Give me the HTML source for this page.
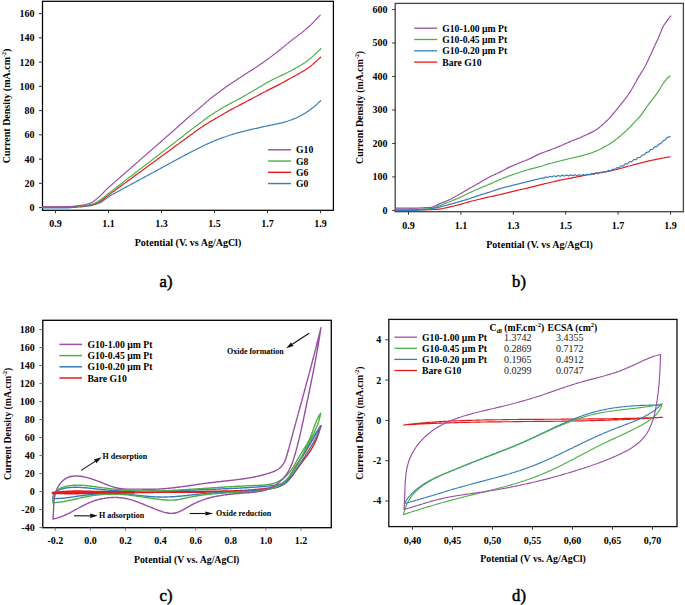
<!DOCTYPE html>
<html><head><meta charset="utf-8"><style>
html,body{margin:0;padding:0;background:#fff;}
svg{display:block;font-family:"Liberation Serif",serif;}
</style></head><body>
<svg width="685" height="605" viewBox="0 0 685 605">
<rect width="685" height="605" fill="#fff"/>
<rect x="42.50" y="1.30" width="290.90" height="209.00" fill="none" stroke="#000" stroke-width="1.25"/>
<line x1="38.90" y1="207.60" x2="42.50" y2="207.60" stroke="#333" stroke-width="1"/>
<text x="34.40" y="211.00" font-size="10.00" text-anchor="end" font-weight="bold" fill="#000" >0</text>
<line x1="38.90" y1="183.35" x2="42.50" y2="183.35" stroke="#333" stroke-width="1"/>
<text x="34.40" y="186.75" font-size="10.00" text-anchor="end" font-weight="bold" fill="#000" >20</text>
<line x1="38.90" y1="159.10" x2="42.50" y2="159.10" stroke="#333" stroke-width="1"/>
<text x="34.40" y="162.50" font-size="10.00" text-anchor="end" font-weight="bold" fill="#000" >40</text>
<line x1="38.90" y1="134.85" x2="42.50" y2="134.85" stroke="#333" stroke-width="1"/>
<text x="34.40" y="138.25" font-size="10.00" text-anchor="end" font-weight="bold" fill="#000" >60</text>
<line x1="38.90" y1="110.60" x2="42.50" y2="110.60" stroke="#333" stroke-width="1"/>
<text x="34.40" y="114.00" font-size="10.00" text-anchor="end" font-weight="bold" fill="#000" >80</text>
<line x1="38.90" y1="86.35" x2="42.50" y2="86.35" stroke="#333" stroke-width="1"/>
<text x="34.40" y="89.75" font-size="10.00" text-anchor="end" font-weight="bold" fill="#000" >100</text>
<line x1="38.90" y1="62.10" x2="42.50" y2="62.10" stroke="#333" stroke-width="1"/>
<text x="34.40" y="65.50" font-size="10.00" text-anchor="end" font-weight="bold" fill="#000" >120</text>
<line x1="38.90" y1="37.85" x2="42.50" y2="37.85" stroke="#333" stroke-width="1"/>
<text x="34.40" y="41.25" font-size="10.00" text-anchor="end" font-weight="bold" fill="#000" >140</text>
<line x1="38.90" y1="13.60" x2="42.50" y2="13.60" stroke="#333" stroke-width="1"/>
<text x="34.40" y="17.00" font-size="10.00" text-anchor="end" font-weight="bold" fill="#000" >160</text>
<line x1="55.50" y1="210.20" x2="55.50" y2="213.20" stroke="#333" stroke-width="1"/>
<text x="55.50" y="227.20" font-size="10.00" text-anchor="middle" font-weight="bold" fill="#000" >0.9</text>
<line x1="108.50" y1="210.20" x2="108.50" y2="213.20" stroke="#333" stroke-width="1"/>
<text x="108.50" y="227.20" font-size="10.00" text-anchor="middle" font-weight="bold" fill="#000" >1.1</text>
<line x1="161.50" y1="210.20" x2="161.50" y2="213.20" stroke="#333" stroke-width="1"/>
<text x="161.50" y="227.20" font-size="10.00" text-anchor="middle" font-weight="bold" fill="#000" >1.3</text>
<line x1="214.50" y1="210.20" x2="214.50" y2="213.20" stroke="#333" stroke-width="1"/>
<text x="214.50" y="227.20" font-size="10.00" text-anchor="middle" font-weight="bold" fill="#000" >1.5</text>
<line x1="267.50" y1="210.20" x2="267.50" y2="213.20" stroke="#333" stroke-width="1"/>
<text x="267.50" y="227.20" font-size="10.00" text-anchor="middle" font-weight="bold" fill="#000" >1.7</text>
<line x1="320.50" y1="210.20" x2="320.50" y2="213.20" stroke="#333" stroke-width="1"/>
<text x="320.50" y="227.20" font-size="10.00" text-anchor="middle" font-weight="bold" fill="#000" >1.9</text>
<text transform="translate(10.00,105.90) rotate(-90)" x="0" y="0" font-size="10.00" text-anchor="middle" font-weight="bold">Current Density (mA.cm<tspan font-size="6.00" dy="-4">-2</tspan><tspan dy="4">)</tspan></text>
<text x="188.00" y="246.20" font-size="10.00" text-anchor="middle" font-weight="bold" fill="#000" >Potential (V. vs Ag/AgCl)</text>
<text x="166.00" y="287.20" font-size="16.60" text-anchor="middle" font-weight="normal" fill="#000" stroke="#000" stroke-width="0.5">a)</text>
<path d="M42.5,208.0 L43.5,208.0 L44.5,208.0 L45.5,208.0 L46.5,208.0 L47.5,208.0 L48.5,208.0 L49.5,207.9 L50.5,207.9 L51.5,207.9 L52.5,207.9 L53.5,207.9 L54.5,207.9 L55.5,207.9 L56.5,207.9 L57.5,207.9 L58.5,207.9 L59.5,207.9 L60.5,207.9 L61.5,207.9 L62.5,207.9 L63.5,207.8 L64.5,207.8 L65.5,207.8 L66.5,207.8 L67.5,207.8 L68.5,207.8 L69.5,207.7 L70.5,207.7 L71.5,207.6 L72.5,207.5 L73.5,207.4 L74.5,207.4 L75.5,207.3 L76.5,207.2 L77.5,207.1 L78.5,207.0 L79.5,206.9 L80.5,206.8 L81.5,206.8 L82.5,206.7 L83.5,206.6 L84.5,206.5 L85.5,206.4 L86.5,206.2 L87.5,206.1 L88.5,205.9 L89.5,205.8 L90.5,205.6 L91.5,205.4 L92.5,205.2 L93.5,204.9 L94.5,204.7 L95.5,204.4 L96.5,204.0 L97.5,203.7 L98.5,203.3 L99.5,202.9 L100.5,202.4 L101.5,201.9 L102.5,201.2 L103.5,200.6 L104.5,199.8 L105.5,199.1 L106.5,198.4 L107.5,197.6 L108.5,196.9 L109.5,196.3 L110.5,195.6 L111.5,195.0 L112.5,194.5 L113.5,193.9 L114.5,193.4 L115.5,192.8 L116.5,192.3 L117.5,191.7 L118.5,191.2 L119.5,190.7 L120.5,190.1 L121.5,189.6 L122.5,189.0 L123.5,188.5 L124.5,187.9 L125.5,187.4 L126.5,186.9 L127.5,186.3 L128.5,185.8 L129.5,185.2 L130.5,184.7 L131.5,184.1 L132.5,183.6 L133.5,183.1 L134.5,182.5 L135.5,182.0 L136.5,181.4 L137.5,180.9 L138.5,180.4 L139.5,179.8 L140.5,179.3 L141.5,178.7 L142.5,178.2 L143.5,177.6 L144.5,177.1 L145.5,176.6 L146.5,176.0 L147.5,175.5 L148.5,174.9 L149.5,174.4 L150.5,173.8 L151.5,173.3 L152.5,172.8 L153.5,172.2 L154.5,171.7 L155.5,171.1 L156.5,170.6 L157.5,170.1 L158.5,169.5 L159.5,169.0 L160.5,168.4 L161.5,167.9 L162.5,167.3 L163.5,166.8 L164.5,166.3 L165.5,165.7 L166.5,165.2 L167.5,164.6 L168.5,164.1 L169.5,163.5 L170.5,163.0 L171.5,162.5 L172.5,161.9 L173.5,161.4 L174.5,160.8 L175.5,160.3 L176.5,159.7 L177.5,159.2 L178.5,158.7 L179.5,158.1 L180.5,157.6 L181.5,157.0 L182.5,156.5 L183.5,156.0 L184.5,155.4 L185.5,154.9 L186.5,154.4 L187.5,153.8 L188.5,153.3 L189.5,152.8 L190.5,152.2 L191.5,151.7 L192.5,151.2 L193.5,150.7 L194.5,150.2 L195.5,149.7 L196.5,149.2 L197.5,148.7 L198.5,148.2 L199.5,147.7 L200.5,147.2 L201.5,146.7 L202.5,146.2 L203.5,145.8 L204.5,145.3 L205.5,144.8 L206.5,144.3 L207.5,143.9 L208.5,143.4 L209.5,143.0 L210.5,142.5 L211.5,142.1 L212.5,141.7 L213.5,141.3 L214.5,140.8 L215.5,140.4 L216.5,140.0 L217.5,139.6 L218.5,139.2 L219.5,138.9 L220.5,138.5 L221.5,138.1 L222.5,137.7 L223.5,137.4 L224.5,137.0 L225.5,136.7 L226.5,136.3 L227.5,136.0 L228.5,135.7 L229.5,135.3 L230.5,135.0 L231.5,134.7 L232.5,134.4 L233.5,134.1 L234.5,133.8 L235.5,133.5 L236.5,133.2 L237.5,132.9 L238.5,132.6 L239.5,132.4 L240.5,132.1 L241.5,131.8 L242.5,131.6 L243.5,131.3 L244.5,131.1 L245.5,130.8 L246.5,130.6 L247.5,130.3 L248.5,130.1 L249.5,129.8 L250.5,129.6 L251.5,129.4 L252.5,129.2 L253.5,129.0 L254.5,128.7 L255.5,128.5 L256.5,128.3 L257.5,128.1 L258.5,127.9 L259.5,127.6 L260.5,127.4 L261.5,127.2 L262.5,126.9 L263.5,126.7 L264.5,126.5 L265.5,126.3 L266.5,126.0 L267.5,125.8 L268.5,125.6 L269.5,125.4 L270.5,125.2 L271.5,125.0 L272.5,124.8 L273.5,124.6 L274.5,124.4 L275.5,124.2 L276.5,124.0 L277.5,123.8 L278.5,123.6 L279.5,123.4 L280.5,123.2 L281.5,122.9 L282.5,122.7 L283.5,122.4 L284.5,122.1 L285.5,121.8 L286.5,121.5 L287.5,121.2 L288.5,120.8 L289.5,120.5 L290.5,120.1 L291.5,119.8 L292.5,119.4 L293.5,119.0 L294.5,118.6 L295.5,118.2 L296.5,117.7 L297.5,117.3 L298.5,116.8 L299.5,116.3 L300.5,115.8 L301.5,115.3 L302.5,114.7 L303.5,114.1 L304.5,113.5 L305.5,112.9 L306.5,112.3 L307.5,111.6 L308.5,110.9 L309.5,110.2 L310.5,109.4 L311.5,108.7 L312.5,108.0 L313.5,107.2 L314.5,106.4 L315.5,105.5 L316.5,104.6 L317.5,103.7 L318.5,102.7 L319.5,101.8 L320.5,101.1 L320.6,100.6" fill="none" stroke="#377eb8" stroke-width="1.20" stroke-linejoin="round" stroke-linecap="round" />
<path d="M42.5,207.1 L43.5,207.1 L44.5,207.1 L45.5,207.1 L46.5,207.1 L47.5,207.1 L48.5,207.1 L49.5,207.1 L50.5,207.1 L51.5,207.1 L52.5,207.1 L53.5,207.1 L54.5,207.1 L55.5,207.1 L56.5,207.2 L57.5,207.2 L58.5,207.2 L59.5,207.2 L60.5,207.2 L61.5,207.2 L62.5,207.2 L63.5,207.2 L64.5,207.2 L65.5,207.2 L66.5,207.2 L67.5,207.2 L68.5,207.2 L69.5,207.1 L70.5,207.1 L71.5,207.0 L72.5,206.9 L73.5,206.8 L74.5,206.8 L75.5,206.7 L76.5,206.6 L77.5,206.5 L78.5,206.4 L79.5,206.3 L80.5,206.3 L81.5,206.2 L82.5,206.2 L83.5,206.1 L84.5,206.0 L85.5,205.9 L86.5,205.7 L87.5,205.6 L88.5,205.4 L89.5,205.3 L90.5,205.1 L91.5,204.8 L92.5,204.6 L93.5,204.3 L94.5,204.0 L95.5,203.7 L96.5,203.2 L97.5,202.8 L98.5,202.2 L99.5,201.7 L100.5,201.1 L101.5,200.4 L102.5,199.7 L103.5,199.0 L104.5,198.2 L105.5,197.4 L106.5,196.7 L107.5,195.9 L108.5,195.1 L109.5,194.4 L110.5,193.6 L111.5,192.9 L112.5,192.1 L113.5,191.4 L114.5,190.7 L115.5,189.9 L116.5,189.2 L117.5,188.5 L118.5,187.7 L119.5,187.0 L120.5,186.3 L121.5,185.6 L122.5,184.8 L123.5,184.1 L124.5,183.4 L125.5,182.6 L126.5,181.9 L127.5,181.2 L128.5,180.4 L129.5,179.7 L130.5,179.0 L131.5,178.2 L132.5,177.5 L133.5,176.8 L134.5,176.0 L135.5,175.3 L136.5,174.6 L137.5,173.9 L138.5,173.1 L139.5,172.4 L140.5,171.7 L141.5,170.9 L142.5,170.2 L143.5,169.5 L144.5,168.7 L145.5,168.0 L146.5,167.3 L147.5,166.5 L148.5,165.8 L149.5,165.1 L150.5,164.3 L151.5,163.6 L152.5,162.9 L153.5,162.2 L154.5,161.4 L155.5,160.7 L156.5,160.0 L157.5,159.2 L158.5,158.5 L159.5,157.8 L160.5,157.0 L161.5,156.3 L162.5,155.6 L163.5,154.8 L164.5,154.1 L165.5,153.4 L166.5,152.6 L167.5,151.9 L168.5,151.2 L169.5,150.5 L170.5,149.7 L171.5,149.0 L172.5,148.3 L173.5,147.5 L174.5,146.8 L175.5,146.1 L176.5,145.3 L177.5,144.6 L178.5,143.9 L179.5,143.1 L180.5,142.4 L181.5,141.7 L182.5,141.0 L183.5,140.2 L184.5,139.5 L185.5,138.8 L186.5,138.0 L187.5,137.3 L188.5,136.6 L189.5,135.8 L190.5,135.1 L191.5,134.4 L192.5,133.7 L193.5,132.9 L194.5,132.2 L195.5,131.5 L196.5,130.8 L197.5,130.0 L198.5,129.3 L199.5,128.6 L200.5,127.9 L201.5,127.3 L202.5,126.6 L203.5,125.9 L204.5,125.3 L205.5,124.6 L206.5,124.0 L207.5,123.4 L208.5,122.7 L209.5,122.1 L210.5,121.5 L211.5,120.9 L212.5,120.4 L213.5,119.8 L214.5,119.2 L215.5,118.6 L216.5,118.0 L217.5,117.4 L218.5,116.8 L219.5,116.2 L220.5,115.7 L221.5,115.1 L222.5,114.5 L223.5,113.9 L224.5,113.3 L225.5,112.8 L226.5,112.2 L227.5,111.6 L228.5,111.1 L229.5,110.5 L230.5,109.9 L231.5,109.4 L232.5,108.9 L233.5,108.3 L234.5,107.8 L235.5,107.3 L236.5,106.7 L237.5,106.2 L238.5,105.7 L239.5,105.1 L240.5,104.6 L241.5,104.1 L242.5,103.6 L243.5,103.1 L244.5,102.5 L245.5,102.0 L246.5,101.5 L247.5,101.0 L248.5,100.4 L249.5,99.9 L250.5,99.4 L251.5,98.9 L252.5,98.3 L253.5,97.8 L254.5,97.3 L255.5,96.7 L256.5,96.2 L257.5,95.7 L258.5,95.2 L259.5,94.6 L260.5,94.1 L261.5,93.6 L262.5,93.0 L263.5,92.5 L264.5,92.0 L265.5,91.5 L266.5,90.9 L267.5,90.4 L268.5,89.9 L269.5,89.4 L270.5,88.9 L271.5,88.4 L272.5,87.9 L273.5,87.4 L274.5,86.9 L275.5,86.4 L276.5,85.9 L277.5,85.4 L278.5,84.9 L279.5,84.4 L280.5,83.8 L281.5,83.3 L282.5,82.7 L283.5,82.2 L284.5,81.6 L285.5,81.1 L286.5,80.5 L287.5,79.9 L288.5,79.4 L289.5,78.8 L290.5,78.3 L291.5,77.7 L292.5,77.2 L293.5,76.6 L294.5,76.1 L295.5,75.5 L296.5,75.0 L297.5,74.4 L298.5,73.9 L299.5,73.3 L300.5,72.8 L301.5,72.2 L302.5,71.6 L303.5,71.0 L304.5,70.4 L305.5,69.8 L306.5,69.1 L307.5,68.4 L308.5,67.7 L309.5,66.9 L310.5,66.2 L311.5,65.4 L312.5,64.6 L313.5,63.7 L314.5,62.8 L315.5,61.9 L316.5,61.0 L317.5,60.1 L318.5,59.1 L319.5,58.3 L320.5,57.6 L320.6,57.1" fill="none" stroke="#e41a1c" stroke-width="1.20" stroke-linejoin="round" stroke-linecap="round" />
<path d="M42.5,207.0 L43.5,207.0 L44.5,207.0 L45.5,207.0 L46.5,207.0 L47.5,207.0 L48.5,207.0 L49.5,207.0 L50.5,207.0 L51.5,207.0 L52.5,207.0 L53.5,207.0 L54.5,207.0 L55.5,207.0 L56.5,207.0 L57.5,207.0 L58.5,207.0 L59.5,207.0 L60.5,207.0 L61.5,207.0 L62.5,207.0 L63.5,207.0 L64.5,207.0 L65.5,207.0 L66.5,207.0 L67.5,207.0 L68.5,207.0 L69.5,206.9 L70.5,206.9 L71.5,206.8 L72.5,206.7 L73.5,206.6 L74.5,206.6 L75.5,206.5 L76.5,206.4 L77.5,206.3 L78.5,206.2 L79.5,206.1 L80.5,206.0 L81.5,206.0 L82.5,205.9 L83.5,205.8 L84.5,205.6 L85.5,205.5 L86.5,205.3 L87.5,205.2 L88.5,205.0 L89.5,204.8 L90.5,204.5 L91.5,204.2 L92.5,204.0 L93.5,203.6 L94.5,203.3 L95.5,202.8 L96.5,202.3 L97.5,201.8 L98.5,201.1 L99.5,200.5 L100.5,199.8 L101.5,199.1 L102.5,198.3 L103.5,197.6 L104.5,196.8 L105.5,196.0 L106.5,195.1 L107.5,194.3 L108.5,193.5 L109.5,192.7 L110.5,191.9 L111.5,191.1 L112.5,190.4 L113.5,189.6 L114.5,188.8 L115.5,188.1 L116.5,187.3 L117.5,186.5 L118.5,185.8 L119.5,185.0 L120.5,184.2 L121.5,183.4 L122.5,182.7 L123.5,181.9 L124.5,181.1 L125.5,180.4 L126.5,179.6 L127.5,178.8 L128.5,178.1 L129.5,177.3 L130.5,176.5 L131.5,175.8 L132.5,175.0 L133.5,174.2 L134.5,173.5 L135.5,172.7 L136.5,171.9 L137.5,171.1 L138.5,170.4 L139.5,169.6 L140.5,168.8 L141.5,168.1 L142.5,167.3 L143.5,166.5 L144.5,165.8 L145.5,165.0 L146.5,164.2 L147.5,163.5 L148.5,162.7 L149.5,161.9 L150.5,161.2 L151.5,160.4 L152.5,159.6 L153.5,158.8 L154.5,158.1 L155.5,157.3 L156.5,156.5 L157.5,155.8 L158.5,155.0 L159.5,154.2 L160.5,153.5 L161.5,152.7 L162.5,151.9 L163.5,151.2 L164.5,150.4 L165.5,149.6 L166.5,148.8 L167.5,148.1 L168.5,147.3 L169.5,146.5 L170.5,145.8 L171.5,145.0 L172.5,144.2 L173.5,143.5 L174.5,142.7 L175.5,141.9 L176.5,141.1 L177.5,140.4 L178.5,139.6 L179.5,138.8 L180.5,138.0 L181.5,137.3 L182.5,136.5 L183.5,135.7 L184.5,134.9 L185.5,134.1 L186.5,133.3 L187.5,132.5 L188.5,131.7 L189.5,130.9 L190.5,130.2 L191.5,129.4 L192.5,128.6 L193.5,127.9 L194.5,127.1 L195.5,126.4 L196.5,125.7 L197.5,124.9 L198.5,124.2 L199.5,123.4 L200.5,122.7 L201.5,122.0 L202.5,121.2 L203.5,120.5 L204.5,119.7 L205.5,119.0 L206.5,118.3 L207.5,117.5 L208.5,116.8 L209.5,116.1 L210.5,115.4 L211.5,114.7 L212.5,114.1 L213.5,113.4 L214.5,112.8 L215.5,112.1 L216.5,111.5 L217.5,110.9 L218.5,110.3 L219.5,109.7 L220.5,109.1 L221.5,108.5 L222.5,107.9 L223.5,107.3 L224.5,106.8 L225.5,106.2 L226.5,105.6 L227.5,105.1 L228.5,104.5 L229.5,104.0 L230.5,103.4 L231.5,102.9 L232.5,102.3 L233.5,101.8 L234.5,101.3 L235.5,100.7 L236.5,100.2 L237.5,99.7 L238.5,99.1 L239.5,98.6 L240.5,98.1 L241.5,97.5 L242.5,97.0 L243.5,96.4 L244.5,95.9 L245.5,95.3 L246.5,94.7 L247.5,94.2 L248.5,93.6 L249.5,93.0 L250.5,92.4 L251.5,91.8 L252.5,91.3 L253.5,90.7 L254.5,90.1 L255.5,89.5 L256.5,88.9 L257.5,88.3 L258.5,87.7 L259.5,87.1 L260.5,86.5 L261.5,85.9 L262.5,85.3 L263.5,84.7 L264.5,84.1 L265.5,83.6 L266.5,83.0 L267.5,82.4 L268.5,81.9 L269.5,81.3 L270.5,80.8 L271.5,80.3 L272.5,79.8 L273.5,79.3 L274.5,78.8 L275.5,78.3 L276.5,77.8 L277.5,77.3 L278.5,76.8 L279.5,76.4 L280.5,75.9 L281.5,75.4 L282.5,74.9 L283.5,74.5 L284.5,74.0 L285.5,73.5 L286.5,73.0 L287.5,72.5 L288.5,72.0 L289.5,71.5 L290.5,71.0 L291.5,70.5 L292.5,70.0 L293.5,69.4 L294.5,68.9 L295.5,68.3 L296.5,67.8 L297.5,67.2 L298.5,66.6 L299.5,66.0 L300.5,65.4 L301.5,64.8 L302.5,64.2 L303.5,63.5 L304.5,62.9 L305.5,62.2 L306.5,61.4 L307.5,60.7 L308.5,59.9 L309.5,59.1 L310.5,58.3 L311.5,57.4 L312.5,56.6 L313.5,55.7 L314.5,54.7 L315.5,53.8 L316.5,52.8 L317.5,51.8 L318.5,50.9 L319.5,50.0 L320.5,49.2 L320.6,48.7" fill="none" stroke="#4daf4a" stroke-width="1.20" stroke-linejoin="round" stroke-linecap="round" />
<path d="M42.5,206.8 L43.5,206.8 L44.5,206.8 L45.5,206.8 L46.5,206.8 L47.5,206.8 L48.5,206.8 L49.5,206.8 L50.5,206.8 L51.5,206.8 L52.5,206.8 L53.5,206.8 L54.5,206.8 L55.5,206.8 L56.5,206.8 L57.5,206.8 L58.5,206.8 L59.5,206.8 L60.5,206.8 L61.5,206.8 L62.5,206.8 L63.5,206.8 L64.5,206.8 L65.5,206.7 L66.5,206.7 L67.5,206.7 L68.5,206.7 L69.5,206.6 L70.5,206.6 L71.5,206.5 L72.5,206.4 L73.5,206.3 L74.5,206.1 L75.5,206.0 L76.5,205.9 L77.5,205.8 L78.5,205.7 L79.5,205.5 L80.5,205.4 L81.5,205.3 L82.5,205.2 L83.5,205.0 L84.5,204.8 L85.5,204.6 L86.5,204.3 L87.5,204.0 L88.5,203.7 L89.5,203.4 L90.5,203.0 L91.5,202.5 L92.5,202.0 L93.5,201.4 L94.5,200.7 L95.5,199.9 L96.5,199.1 L97.5,198.3 L98.5,197.4 L99.5,196.5 L100.5,195.6 L101.5,194.6 L102.5,193.6 L103.5,192.5 L104.5,191.4 L105.5,190.4 L106.5,189.4 L107.5,188.4 L108.5,187.5 L109.5,186.6 L110.5,185.8 L111.5,184.9 L112.5,184.0 L113.5,183.1 L114.5,182.3 L115.5,181.4 L116.5,180.5 L117.5,179.6 L118.5,178.8 L119.5,177.9 L120.5,177.0 L121.5,176.1 L122.5,175.3 L123.5,174.4 L124.5,173.5 L125.5,172.6 L126.5,171.8 L127.5,170.9 L128.5,170.0 L129.5,169.1 L130.5,168.3 L131.5,167.4 L132.5,166.5 L133.5,165.6 L134.5,164.8 L135.5,163.9 L136.5,163.0 L137.5,162.1 L138.5,161.3 L139.5,160.4 L140.5,159.5 L141.5,158.6 L142.5,157.8 L143.5,156.9 L144.5,156.0 L145.5,155.1 L146.5,154.3 L147.5,153.4 L148.5,152.5 L149.5,151.6 L150.5,150.8 L151.5,149.9 L152.5,149.0 L153.5,148.1 L154.5,147.3 L155.5,146.4 L156.5,145.5 L157.5,144.6 L158.5,143.8 L159.5,142.9 L160.5,142.0 L161.5,141.1 L162.5,140.3 L163.5,139.4 L164.5,138.5 L165.5,137.6 L166.5,136.8 L167.5,135.9 L168.5,135.0 L169.5,134.2 L170.5,133.3 L171.5,132.4 L172.5,131.5 L173.5,130.7 L174.5,129.8 L175.5,128.9 L176.5,128.0 L177.5,127.1 L178.5,126.2 L179.5,125.3 L180.5,124.4 L181.5,123.5 L182.5,122.6 L183.5,121.7 L184.5,120.8 L185.5,119.9 L186.5,119.0 L187.5,118.1 L188.5,117.2 L189.5,116.4 L190.5,115.5 L191.5,114.7 L192.5,113.9 L193.5,113.0 L194.5,112.2 L195.5,111.4 L196.5,110.6 L197.5,109.7 L198.5,108.9 L199.5,108.0 L200.5,107.2 L201.5,106.3 L202.5,105.4 L203.5,104.6 L204.5,103.7 L205.5,102.8 L206.5,101.9 L207.5,101.1 L208.5,100.2 L209.5,99.4 L210.5,98.6 L211.5,97.8 L212.5,97.0 L213.5,96.2 L214.5,95.5 L215.5,94.7 L216.5,93.9 L217.5,93.2 L218.5,92.4 L219.5,91.7 L220.5,91.0 L221.5,90.2 L222.5,89.5 L223.5,88.8 L224.5,88.1 L225.5,87.3 L226.5,86.6 L227.5,85.9 L228.5,85.2 L229.5,84.5 L230.5,83.9 L231.5,83.2 L232.5,82.5 L233.5,81.9 L234.5,81.2 L235.5,80.6 L236.5,79.9 L237.5,79.3 L238.5,78.6 L239.5,78.0 L240.5,77.3 L241.5,76.7 L242.5,76.0 L243.5,75.4 L244.5,74.7 L245.5,74.1 L246.5,73.4 L247.5,72.8 L248.5,72.1 L249.5,71.5 L250.5,70.8 L251.5,70.2 L252.5,69.5 L253.5,68.9 L254.5,68.3 L255.5,67.6 L256.5,67.0 L257.5,66.3 L258.5,65.7 L259.5,65.0 L260.5,64.3 L261.5,63.6 L262.5,62.9 L263.5,62.2 L264.5,61.5 L265.5,60.8 L266.5,60.1 L267.5,59.3 L268.5,58.6 L269.5,57.9 L270.5,57.1 L271.5,56.4 L272.5,55.6 L273.5,54.9 L274.5,54.1 L275.5,53.4 L276.5,52.6 L277.5,51.8 L278.5,51.0 L279.5,50.2 L280.5,49.4 L281.5,48.6 L282.5,47.7 L283.5,46.9 L284.5,46.1 L285.5,45.2 L286.5,44.4 L287.5,43.6 L288.5,42.7 L289.5,41.9 L290.5,41.2 L291.5,40.4 L292.5,39.6 L293.5,38.9 L294.5,38.1 L295.5,37.4 L296.5,36.6 L297.5,35.9 L298.5,35.1 L299.5,34.4 L300.5,33.6 L301.5,32.9 L302.5,32.1 L303.5,31.3 L304.5,30.4 L305.5,29.6 L306.5,28.7 L307.5,27.8 L308.5,26.9 L309.5,26.0 L310.5,25.1 L311.5,24.1 L312.5,23.2 L313.5,22.2 L314.5,21.2 L315.5,20.1 L316.5,19.0 L317.5,17.9 L318.5,16.8 L319.5,15.9 L320.2,15.1" fill="none" stroke="#984ea3" stroke-width="1.20" stroke-linejoin="round" stroke-linecap="round" />
<line x1="268" y1="149.80" x2="291" y2="149.80" stroke="#984ea3" stroke-width="1.4"/>
<text x="296.00" y="153.30" font-size="9.70" text-anchor="start" font-weight="bold" fill="#000" >G10</text>
<line x1="268" y1="161.05" x2="291" y2="161.05" stroke="#4daf4a" stroke-width="1.4"/>
<text x="296.00" y="164.55" font-size="9.70" text-anchor="start" font-weight="bold" fill="#000" >G8</text>
<line x1="268" y1="172.30" x2="291" y2="172.30" stroke="#e41a1c" stroke-width="1.4"/>
<text x="296.00" y="175.80" font-size="9.70" text-anchor="start" font-weight="bold" fill="#000" >G6</text>
<line x1="268" y1="183.55" x2="291" y2="183.55" stroke="#377eb8" stroke-width="1.4"/>
<text x="296.00" y="187.05" font-size="9.70" text-anchor="start" font-weight="bold" fill="#000" >G0</text>
<rect x="395.20" y="3.40" width="288.20" height="208.30" fill="none" stroke="#444" stroke-width="1.30"/>
<line x1="392.20" y1="210.40" x2="395.20" y2="210.40" stroke="#333" stroke-width="1"/>
<text x="387.60" y="213.80" font-size="10.00" text-anchor="end" font-weight="bold" fill="#000" >0</text>
<line x1="392.20" y1="176.93" x2="395.20" y2="176.93" stroke="#333" stroke-width="1"/>
<text x="387.60" y="180.33" font-size="10.00" text-anchor="end" font-weight="bold" fill="#000" >100</text>
<line x1="392.20" y1="143.46" x2="395.20" y2="143.46" stroke="#333" stroke-width="1"/>
<text x="387.60" y="146.86" font-size="10.00" text-anchor="end" font-weight="bold" fill="#000" >200</text>
<line x1="392.20" y1="109.99" x2="395.20" y2="109.99" stroke="#333" stroke-width="1"/>
<text x="387.60" y="113.39" font-size="10.00" text-anchor="end" font-weight="bold" fill="#000" >300</text>
<line x1="392.20" y1="76.52" x2="395.20" y2="76.52" stroke="#333" stroke-width="1"/>
<text x="387.60" y="79.92" font-size="10.00" text-anchor="end" font-weight="bold" fill="#000" >400</text>
<line x1="392.20" y1="43.05" x2="395.20" y2="43.05" stroke="#333" stroke-width="1"/>
<text x="387.60" y="46.45" font-size="10.00" text-anchor="end" font-weight="bold" fill="#000" >500</text>
<line x1="392.20" y1="9.58" x2="395.20" y2="9.58" stroke="#333" stroke-width="1"/>
<text x="387.60" y="12.98" font-size="10.00" text-anchor="end" font-weight="bold" fill="#000" >600</text>
<line x1="408.50" y1="211.70" x2="408.50" y2="214.70" stroke="#333" stroke-width="1"/>
<text x="408.50" y="229.00" font-size="10.00" text-anchor="middle" font-weight="bold" fill="#000" >0.9</text>
<line x1="460.90" y1="211.70" x2="460.90" y2="214.70" stroke="#333" stroke-width="1"/>
<text x="460.90" y="229.00" font-size="10.00" text-anchor="middle" font-weight="bold" fill="#000" >1.1</text>
<line x1="513.30" y1="211.70" x2="513.30" y2="214.70" stroke="#333" stroke-width="1"/>
<text x="513.30" y="229.00" font-size="10.00" text-anchor="middle" font-weight="bold" fill="#000" >1.3</text>
<line x1="565.70" y1="211.70" x2="565.70" y2="214.70" stroke="#333" stroke-width="1"/>
<text x="565.70" y="229.00" font-size="10.00" text-anchor="middle" font-weight="bold" fill="#000" >1.5</text>
<line x1="618.10" y1="211.70" x2="618.10" y2="214.70" stroke="#333" stroke-width="1"/>
<text x="618.10" y="229.00" font-size="10.00" text-anchor="middle" font-weight="bold" fill="#000" >1.7</text>
<line x1="670.50" y1="211.70" x2="670.50" y2="214.70" stroke="#333" stroke-width="1"/>
<text x="670.50" y="229.00" font-size="10.00" text-anchor="middle" font-weight="bold" fill="#000" >1.9</text>
<text transform="translate(362.60,107.40) rotate(-90)" x="0" y="0" font-size="9.88" text-anchor="middle" font-weight="bold">Current Density (mA.cm<tspan font-size="5.93" dy="-4">-2</tspan><tspan dy="4">)</tspan></text>
<text x="539.50" y="248.00" font-size="10.00" text-anchor="middle" font-weight="bold" fill="#000" >Potential (V. vs Ag/AgCl)</text>
<text x="519.00" y="287.20" font-size="16.60" text-anchor="middle" font-weight="normal" fill="#000" stroke="#000" stroke-width="0.5">b)</text>
<path d="M396.0,209.8 L397.0,209.8 L398.0,209.8 L399.0,209.8 L400.0,209.8 L401.0,209.8 L402.0,209.8 L403.0,209.8 L404.0,209.8 L405.0,209.8 L406.0,209.8 L407.0,209.8 L408.0,209.8 L409.0,209.8 L410.0,209.8 L411.0,209.7 L412.0,209.7 L413.0,209.7 L414.0,209.7 L415.0,209.7 L416.0,209.7 L417.0,209.7 L418.0,209.7 L419.0,209.7 L420.0,209.7 L421.0,209.7 L422.0,209.7 L423.0,209.7 L424.0,209.7 L425.0,209.7 L426.0,209.7 L427.0,209.7 L428.0,209.6 L429.0,209.6 L430.0,209.6 L431.0,209.6 L432.0,209.6 L433.0,209.5 L434.0,209.5 L435.0,209.5 L436.0,209.4 L437.0,209.3 L438.0,209.2 L439.0,209.1 L440.0,209.0 L441.0,208.8 L442.0,208.7 L443.0,208.5 L444.0,208.2 L445.0,208.0 L446.0,207.8 L447.0,207.6 L448.0,207.4 L449.0,207.2 L450.0,206.9 L451.0,206.7 L452.0,206.5 L453.0,206.2 L454.0,206.0 L455.0,205.7 L456.0,205.5 L457.0,205.2 L458.0,204.9 L459.0,204.7 L460.0,204.4 L461.0,204.1 L462.0,203.9 L463.0,203.6 L464.0,203.3 L465.0,203.0 L466.0,202.7 L467.0,202.4 L468.0,202.1 L469.0,201.8 L470.0,201.6 L471.0,201.3 L472.0,201.0 L473.0,200.8 L474.0,200.5 L475.0,200.3 L476.0,200.0 L477.0,199.8 L478.0,199.5 L479.0,199.3 L480.0,199.0 L481.0,198.8 L482.0,198.6 L483.0,198.3 L484.0,198.1 L485.0,197.9 L486.0,197.6 L487.0,197.4 L488.0,197.2 L489.0,197.0 L490.0,196.7 L491.0,196.5 L492.0,196.3 L493.0,196.1 L494.0,195.9 L495.0,195.7 L496.0,195.4 L497.0,195.2 L498.0,195.0 L499.0,194.8 L500.0,194.6 L501.0,194.3 L502.0,194.1 L503.0,193.9 L504.0,193.6 L505.0,193.4 L506.0,193.1 L507.0,192.9 L508.0,192.6 L509.0,192.4 L510.0,192.2 L511.0,191.9 L512.0,191.7 L513.0,191.4 L514.0,191.2 L515.0,190.9 L516.0,190.7 L517.0,190.4 L518.0,190.2 L519.0,190.0 L520.0,189.7 L521.0,189.5 L522.0,189.3 L523.0,189.0 L524.0,188.8 L525.0,188.6 L526.0,188.3 L527.0,188.1 L528.0,187.9 L529.0,187.6 L530.0,187.4 L531.0,187.2 L532.0,186.9 L533.0,186.7 L534.0,186.4 L535.0,186.2 L536.0,185.9 L537.0,185.7 L538.0,185.4 L539.0,185.2 L540.0,184.9 L541.0,184.7 L542.0,184.4 L543.0,184.2 L544.0,183.9 L545.0,183.7 L546.0,183.5 L547.0,183.2 L548.0,183.0 L549.0,182.7 L550.0,182.5 L551.0,182.3 L552.0,182.0 L553.0,181.8 L554.0,181.6 L555.0,181.3 L556.0,181.1 L557.0,180.9 L558.0,180.6 L559.0,180.4 L560.0,180.2 L561.0,180.0 L562.0,179.8 L563.0,179.6 L564.0,179.4 L565.0,179.2 L566.0,179.0 L567.0,178.8 L568.0,178.6 L569.0,178.4 L570.0,178.3 L571.0,178.1 L572.0,177.9 L573.0,177.7 L574.0,177.5 L575.0,177.3 L576.0,177.1 L577.0,176.9 L578.0,176.7 L579.0,176.5 L580.0,176.3 L581.0,176.1 L582.0,175.9 L583.0,175.7 L584.0,175.5 L585.0,175.2 L586.0,175.0 L587.0,174.8 L588.0,174.7 L589.0,174.5 L590.0,174.3 L591.0,174.1 L592.0,173.9 L593.0,173.7 L594.0,173.6 L595.0,173.4 L596.0,173.2 L597.0,173.0 L598.0,172.9 L599.0,172.7 L600.0,172.5 L601.0,172.4 L602.0,172.2 L603.0,172.1 L604.0,171.9 L605.0,171.8 L606.0,171.6 L607.0,171.5 L608.0,171.3 L609.0,171.1 L610.0,170.9 L611.0,170.7 L612.0,170.5 L613.0,170.3 L614.0,170.0 L615.0,169.8 L616.0,169.5 L617.0,169.3 L618.0,169.1 L619.0,168.8 L620.0,168.5 L621.0,168.3 L622.0,168.0 L623.0,167.7 L624.0,167.4 L625.0,167.2 L626.0,166.9 L627.0,166.6 L628.0,166.3 L629.0,166.0 L630.0,165.8 L631.0,165.5 L632.0,165.2 L633.0,164.9 L634.0,164.7 L635.0,164.4 L636.0,164.1 L637.0,163.9 L638.0,163.6 L639.0,163.3 L640.0,163.1 L641.0,162.8 L642.0,162.6 L643.0,162.3 L644.0,162.1 L645.0,161.8 L646.0,161.6 L647.0,161.4 L648.0,161.1 L649.0,160.9 L650.0,160.7 L651.0,160.5 L652.0,160.2 L653.0,160.0 L654.0,159.8 L655.0,159.6 L656.0,159.4 L657.0,159.2 L658.0,159.0 L659.0,158.8 L660.0,158.6 L661.0,158.4 L662.0,158.2 L663.0,158.0 L664.0,157.9 L665.0,157.7 L666.0,157.5 L667.0,157.3 L668.0,157.1 L669.0,157.0 L670.0,156.9" fill="none" stroke="#e41a1c" stroke-width="1.20" stroke-linejoin="round" stroke-linecap="round" />
<path d="M396.0,209.3 L397.0,209.3 L398.0,209.3 L399.0,209.3 L400.0,209.3 L401.0,209.3 L402.0,209.3 L403.0,209.3 L404.0,209.3 L405.0,209.3 L406.0,209.3 L407.0,209.3 L408.0,209.3 L409.0,209.2 L410.0,209.2 L411.0,209.2 L412.0,209.2 L413.0,209.2 L414.0,209.2 L415.0,209.2 L416.0,209.2 L417.0,209.2 L418.0,209.2 L419.0,209.2 L420.0,209.2 L421.0,209.1 L422.0,209.1 L423.0,209.0 L424.0,209.0 L425.0,208.9 L426.0,208.8 L427.0,208.8 L428.0,208.7 L429.0,208.6 L430.0,208.5 L431.0,208.3 L432.0,208.1 L433.0,207.8 L434.0,207.5 L435.0,207.2 L436.0,206.9 L437.0,206.6 L438.0,206.2 L439.0,205.8 L440.0,205.5 L441.0,205.1 L442.0,204.7 L443.0,204.3 L444.0,203.9 L445.0,203.5 L446.0,203.1 L447.0,202.7 L448.0,202.3 L449.0,202.0 L450.0,201.6 L451.0,201.2 L452.0,200.8 L453.0,200.3 L454.0,199.9 L455.0,199.5 L456.0,199.1 L457.0,198.7 L458.0,198.3 L459.0,197.9 L460.0,197.4 L461.0,197.0 L462.0,196.5 L463.0,196.0 L464.0,195.5 L465.0,195.0 L466.0,194.5 L467.0,194.0 L468.0,193.5 L469.0,193.0 L470.0,192.5 L471.0,192.1 L472.0,191.6 L473.0,191.2 L474.0,190.7 L475.0,190.3 L476.0,189.8 L477.0,189.4 L478.0,189.0 L479.0,188.5 L480.0,188.1 L481.0,187.7 L482.0,187.3 L483.0,186.9 L484.0,186.5 L485.0,186.1 L486.0,185.7 L487.0,185.2 L488.0,184.8 L489.0,184.4 L490.0,184.0 L491.0,183.6 L492.0,183.1 L493.0,182.7 L494.0,182.2 L495.0,181.8 L496.0,181.3 L497.0,180.9 L498.0,180.5 L499.0,180.0 L500.0,179.6 L501.0,179.2 L502.0,178.8 L503.0,178.3 L504.0,177.9 L505.0,177.5 L506.0,177.1 L507.0,176.7 L508.0,176.3 L509.0,175.9 L510.0,175.6 L511.0,175.2 L512.0,174.9 L513.0,174.5 L514.0,174.2 L515.0,173.8 L516.0,173.5 L517.0,173.2 L518.0,172.8 L519.0,172.5 L520.0,172.2 L521.0,171.8 L522.0,171.5 L523.0,171.2 L524.0,170.9 L525.0,170.6 L526.0,170.3 L527.0,170.0 L528.0,169.7 L529.0,169.4 L530.0,169.2 L531.0,168.9 L532.0,168.6 L533.0,168.4 L534.0,168.1 L535.0,167.9 L536.0,167.6 L537.0,167.4 L538.0,167.1 L539.0,166.8 L540.0,166.5 L541.0,166.3 L542.0,166.0 L543.0,165.7 L544.0,165.3 L545.0,165.0 L546.0,164.7 L547.0,164.4 L548.0,164.1 L549.0,163.8 L550.0,163.5 L551.0,163.3 L552.0,163.0 L553.0,162.7 L554.0,162.5 L555.0,162.2 L556.0,162.0 L557.0,161.7 L558.0,161.5 L559.0,161.2 L560.0,161.0 L561.0,160.7 L562.0,160.5 L563.0,160.2 L564.0,160.0 L565.0,159.7 L566.0,159.5 L567.0,159.2 L568.0,159.0 L569.0,158.7 L570.0,158.5 L571.0,158.2 L572.0,158.0 L573.0,157.8 L574.0,157.5 L575.0,157.3 L576.0,157.1 L577.0,156.8 L578.0,156.6 L579.0,156.4 L580.0,156.1 L581.0,155.9 L582.0,155.6 L583.0,155.3 L584.0,155.1 L585.0,154.8 L586.0,154.5 L587.0,154.2 L588.0,153.9 L589.0,153.7 L590.0,153.3 L591.0,153.0 L592.0,152.6 L593.0,152.3 L594.0,151.9 L595.0,151.5 L596.0,151.1 L597.0,150.7 L598.0,150.3 L599.0,149.8 L600.0,149.3 L601.0,148.8 L602.0,148.2 L603.0,147.6 L604.0,147.1 L605.0,146.5 L606.0,146.0 L607.0,145.5 L608.0,145.0 L609.0,144.4 L610.0,143.8 L611.0,143.1 L612.0,142.4 L613.0,141.7 L614.0,140.9 L615.0,140.2 L616.0,139.4 L617.0,138.6 L618.0,137.8 L619.0,137.0 L620.0,136.2 L621.0,135.4 L622.0,134.5 L623.0,133.6 L624.0,132.7 L625.0,131.8 L626.0,130.9 L627.0,129.9 L628.0,129.0 L629.0,128.1 L630.0,127.1 L631.0,126.0 L632.0,125.0 L633.0,123.9 L634.0,122.8 L635.0,121.7 L636.0,120.6 L637.0,119.6 L638.0,118.6 L639.0,117.5 L640.0,116.4 L641.0,115.1 L642.0,113.7 L643.0,112.3 L644.0,110.9 L645.0,109.4 L646.0,108.0 L647.0,106.5 L648.0,105.1 L649.0,103.7 L650.0,102.4 L651.0,101.1 L652.0,99.8 L653.0,98.6 L654.0,97.3 L655.0,96.1 L656.0,94.7 L657.0,93.3 L658.0,91.9 L659.0,90.4 L660.0,88.7 L661.0,87.0 L662.0,85.3 L663.0,83.7 L664.0,82.3 L665.0,81.0 L666.0,79.8 L667.0,78.7 L668.0,77.7 L669.0,76.8 L670.0,76.2" fill="none" stroke="#4daf4a" stroke-width="1.20" stroke-linejoin="round" stroke-linecap="round" />
<path d="M396.0,208.2 L397.0,208.2 L398.0,208.2 L399.0,208.2 L400.0,208.2 L401.0,208.2 L402.0,208.2 L403.0,208.2 L404.0,208.2 L405.0,208.2 L406.0,208.2 L407.0,208.2 L408.0,208.2 L409.0,208.2 L410.0,208.2 L411.0,208.2 L412.0,208.2 L413.0,208.1 L414.0,208.1 L415.0,208.1 L416.0,208.1 L417.0,208.1 L418.0,208.0 L419.0,208.0 L420.0,208.0 L421.0,207.9 L422.0,207.9 L423.0,207.8 L424.0,207.8 L425.0,207.7 L426.0,207.7 L427.0,207.6 L428.0,207.6 L429.0,207.5 L430.0,207.4 L431.0,207.3 L432.0,207.1 L433.0,206.8 L434.0,206.4 L435.0,206.0 L436.0,205.6 L437.0,205.1 L438.0,204.6 L439.0,204.1 L440.0,203.6 L441.0,203.2 L442.0,202.8 L443.0,202.4 L444.0,202.0 L445.0,201.6 L446.0,201.2 L447.0,200.8 L448.0,200.4 L449.0,199.9 L450.0,199.5 L451.0,199.0 L452.0,198.4 L453.0,197.9 L454.0,197.3 L455.0,196.8 L456.0,196.2 L457.0,195.7 L458.0,195.1 L459.0,194.5 L460.0,194.0 L461.0,193.4 L462.0,192.8 L463.0,192.2 L464.0,191.6 L465.0,191.0 L466.0,190.4 L467.0,189.9 L468.0,189.3 L469.0,188.7 L470.0,188.1 L471.0,187.5 L472.0,187.0 L473.0,186.4 L474.0,185.9 L475.0,185.3 L476.0,184.8 L477.0,184.2 L478.0,183.6 L479.0,183.1 L480.0,182.5 L481.0,181.9 L482.0,181.3 L483.0,180.7 L484.0,180.1 L485.0,179.5 L486.0,178.9 L487.0,178.4 L488.0,177.8 L489.0,177.2 L490.0,176.7 L491.0,176.2 L492.0,175.7 L493.0,175.3 L494.0,174.8 L495.0,174.4 L496.0,173.9 L497.0,173.5 L498.0,173.0 L499.0,172.6 L500.0,172.1 L501.0,171.6 L502.0,171.1 L503.0,170.5 L504.0,170.0 L505.0,169.5 L506.0,168.9 L507.0,168.4 L508.0,167.9 L509.0,167.4 L510.0,166.9 L511.0,166.4 L512.0,166.0 L513.0,165.6 L514.0,165.1 L515.0,164.7 L516.0,164.3 L517.0,163.9 L518.0,163.5 L519.0,163.0 L520.0,162.6 L521.0,162.2 L522.0,161.8 L523.0,161.4 L524.0,161.0 L525.0,160.7 L526.0,160.3 L527.0,159.9 L528.0,159.5 L529.0,159.0 L530.0,158.6 L531.0,158.1 L532.0,157.6 L533.0,157.1 L534.0,156.6 L535.0,156.1 L536.0,155.6 L537.0,155.1 L538.0,154.6 L539.0,154.1 L540.0,153.7 L541.0,153.3 L542.0,152.9 L543.0,152.6 L544.0,152.2 L545.0,151.8 L546.0,151.5 L547.0,151.1 L548.0,150.7 L549.0,150.4 L550.0,150.0 L551.0,149.6 L552.0,149.2 L553.0,148.8 L554.0,148.5 L555.0,148.1 L556.0,147.7 L557.0,147.3 L558.0,146.9 L559.0,146.5 L560.0,146.1 L561.0,145.7 L562.0,145.2 L563.0,144.8 L564.0,144.3 L565.0,143.9 L566.0,143.4 L567.0,143.0 L568.0,142.5 L569.0,142.1 L570.0,141.6 L571.0,141.2 L572.0,140.8 L573.0,140.5 L574.0,140.1 L575.0,139.7 L576.0,139.3 L577.0,138.9 L578.0,138.5 L579.0,138.1 L580.0,137.7 L581.0,137.2 L582.0,136.8 L583.0,136.3 L584.0,135.9 L585.0,135.4 L586.0,135.0 L587.0,134.5 L588.0,134.1 L589.0,133.6 L590.0,133.1 L591.0,132.6 L592.0,132.1 L593.0,131.6 L594.0,131.1 L595.0,130.5 L596.0,129.8 L597.0,129.2 L598.0,128.5 L599.0,127.7 L600.0,126.9 L601.0,126.1 L602.0,125.2 L603.0,124.3 L604.0,123.4 L605.0,122.4 L606.0,121.5 L607.0,120.5 L608.0,119.6 L609.0,118.6 L610.0,117.6 L611.0,116.4 L612.0,115.2 L613.0,114.0 L614.0,112.8 L615.0,111.6 L616.0,110.4 L617.0,109.1 L618.0,107.9 L619.0,106.7 L620.0,105.4 L621.0,104.2 L622.0,102.9 L623.0,101.6 L624.0,100.3 L625.0,99.0 L626.0,97.7 L627.0,96.3 L628.0,95.0 L629.0,93.6 L630.0,92.1 L631.0,90.5 L632.0,88.8 L633.0,87.0 L634.0,85.2 L635.0,83.4 L636.0,81.7 L637.0,79.9 L638.0,78.1 L639.0,76.4 L640.0,74.7 L641.0,73.1 L642.0,71.5 L643.0,70.0 L644.0,68.3 L645.0,66.5 L646.0,64.6 L647.0,62.5 L648.0,60.4 L649.0,58.3 L650.0,56.1 L651.0,54.0 L652.0,51.8 L653.0,49.6 L654.0,47.4 L655.0,45.3 L656.0,43.1 L657.0,40.9 L658.0,38.7 L659.0,36.4 L660.0,34.1 L661.0,31.5 L662.0,28.9 L663.0,26.7 L664.0,25.0 L665.0,23.7 L666.0,22.3 L667.0,20.9 L668.0,19.5 L669.0,18.1 L670.0,16.9 L670.8,16.0" fill="none" stroke="#984ea3" stroke-width="1.20" stroke-linejoin="round" stroke-linecap="round" />
<path d="M396.0,210.4 L396.5,210.4 L397.0,210.4 L397.5,210.4 L398.0,210.4 L398.5,210.4 L399.0,210.4 L399.5,210.4 L400.0,210.4 L400.5,210.4 L401.0,210.4 L401.5,210.4 L402.0,210.4 L402.5,210.4 L403.0,210.4 L403.5,210.4 L404.0,210.4 L404.5,210.4 L405.0,210.4 L405.5,210.4 L406.0,210.4 L406.5,210.4 L407.0,210.4 L407.5,210.4 L408.0,210.3 L408.5,210.3 L409.0,210.3 L409.5,210.3 L410.0,210.3 L410.5,210.3 L411.0,210.3 L411.5,210.3 L412.0,210.3 L412.5,210.3 L413.0,210.3 L413.5,210.3 L414.0,210.3 L414.5,210.3 L415.0,210.3 L415.5,210.3 L416.0,210.3 L416.5,210.3 L417.0,210.3 L417.5,210.3 L418.0,210.3 L418.5,210.2 L419.0,210.2 L419.5,210.2 L420.0,210.2 L420.5,210.1 L421.0,210.1 L421.5,210.1 L422.0,210.0 L422.5,210.0 L423.0,209.9 L423.5,209.9 L424.0,209.8 L424.5,209.8 L425.0,209.8 L425.5,209.7 L426.0,209.7 L426.5,209.6 L427.0,209.6 L427.5,209.5 L428.0,209.4 L428.5,209.4 L429.0,209.3 L429.5,209.2 L430.0,209.2 L430.5,209.1 L431.0,209.0 L431.5,208.9 L432.0,208.8 L432.5,208.7 L433.0,208.6 L433.5,208.5 L434.0,208.3 L434.5,208.2 L435.0,208.1 L435.5,208.0 L436.0,207.9 L436.5,207.8 L437.0,207.7 L437.5,207.5 L438.0,207.4 L438.5,207.3 L439.0,207.2 L439.5,207.1 L440.0,206.9 L440.5,206.8 L441.0,206.7 L441.5,206.6 L442.0,206.4 L442.5,206.3 L443.0,206.2 L443.5,206.0 L444.0,205.9 L444.5,205.8 L445.0,205.6 L445.5,205.5 L446.0,205.4 L446.5,205.2 L447.0,205.1 L447.5,205.0 L448.0,204.8 L448.5,204.7 L449.0,204.5 L449.5,204.4 L450.0,204.3 L450.5,204.1 L451.0,204.0 L451.5,203.9 L452.0,203.7 L452.5,203.6 L453.0,203.5 L453.5,203.3 L454.0,203.2 L454.5,203.0 L455.0,202.9 L455.5,202.8 L456.0,202.6 L456.5,202.5 L457.0,202.4 L457.5,202.2 L458.0,202.1 L458.5,201.9 L459.0,201.8 L459.5,201.7 L460.0,201.5 L460.5,201.4 L461.0,201.2 L461.5,201.1 L462.0,200.9 L462.5,200.8 L463.0,200.6 L463.5,200.5 L464.0,200.3 L464.5,200.2 L465.0,200.0 L465.5,199.9 L466.0,199.7 L466.5,199.6 L467.0,199.4 L467.5,199.3 L468.0,199.1 L468.5,199.0 L469.0,198.8 L469.5,198.6 L470.0,198.5 L470.5,198.3 L471.0,198.1 L471.5,198.0 L472.0,197.8 L472.5,197.6 L473.0,197.5 L473.5,197.3 L474.0,197.1 L474.5,196.9 L475.0,196.8 L475.5,196.6 L476.0,196.4 L476.5,196.2 L477.0,196.1 L477.5,195.9 L478.0,195.7 L478.5,195.6 L479.0,195.4 L479.5,195.2 L480.0,195.1 L480.5,194.9 L481.0,194.7 L481.5,194.6 L482.0,194.4 L482.5,194.3 L483.0,194.1 L483.5,194.0 L484.0,193.8 L484.5,193.7 L485.0,193.5 L485.5,193.4 L486.0,193.2 L486.5,193.1 L487.0,192.9 L487.5,192.8 L488.0,192.6 L488.5,192.5 L489.0,192.3 L489.5,192.2 L490.0,192.0 L490.5,191.8 L491.0,191.7 L491.5,191.5 L492.0,191.3 L492.5,191.1 L493.0,191.0 L493.5,190.8 L494.0,190.6 L494.5,190.4 L495.0,190.3 L495.5,190.1 L496.0,189.9 L496.5,189.7 L497.0,189.6 L497.5,189.4 L498.0,189.2 L498.5,189.1 L499.0,188.9 L499.5,188.7 L500.0,188.6 L500.5,188.4 L501.0,188.3 L501.5,188.1 L502.0,188.0 L502.5,187.9 L503.0,187.7 L503.5,187.6 L504.0,187.5 L504.5,187.3 L505.0,187.2 L505.5,187.1 L506.0,187.0 L506.5,186.8 L507.0,186.7 L507.5,186.6 L508.0,186.5 L508.5,186.3 L509.0,186.2 L509.5,186.1 L510.0,186.0 L510.5,185.8 L511.0,185.7 L511.5,185.6 L512.0,185.5 L512.5,185.4 L513.0,185.2 L513.5,185.1 L514.0,185.0 L514.5,184.9 L515.0,184.8 L515.5,184.6 L516.0,184.5 L516.5,184.4 L517.0,184.3 L517.5,184.1 L518.0,184.0 L518.5,183.9 L519.0,183.8 L519.5,183.7 L520.0,183.5 L520.5,183.4 L521.0,183.3 L521.5,183.2 L522.0,183.0 L522.5,182.9 L523.0,182.8 L523.5,182.7 L524.0,182.5 L524.5,182.4 L525.0,182.3 L525.5,182.2 L526.0,182.0 L526.5,181.9 L527.0,181.8 L527.5,181.7 L528.0,181.5 L528.5,181.4 L529.0,181.3 L529.5,181.2 L530.0,181.0 L530.5,180.9 L531.0,180.8 L531.5,180.6 L532.0,180.5 L532.5,180.4 L533.0,180.3 L533.5,180.1 L534.0,180.0 L534.5,179.9 L535.0,179.8 L535.5,179.6 L536.0,179.5 L536.5,179.4 L537.0,179.2 L537.5,179.1 L538.0,179.0 L538.5,179.0 L539.0,178.9 L539.5,178.8 L540.0,178.6 L540.5,178.4 L541.0,178.2 L541.5,178.1 L542.0,178.1 L542.5,178.1 L543.0,178.1 L543.5,178.1 L544.0,177.9 L544.5,177.6 L545.0,177.4 L545.5,177.1 L546.0,177.2 L546.5,177.3 L547.0,177.4 L547.5,177.5 L548.0,177.3 L548.5,177.0 L549.0,176.7 L549.5,176.4 L550.0,176.3 L550.5,176.5 L551.0,176.7 L551.5,176.9 L552.0,176.9 L552.5,176.6 L553.0,176.3 L553.5,176.0 L554.0,175.8 L554.5,176.0 L555.0,176.2 L555.5,176.4 L556.0,176.7 L556.5,176.4 L557.0,176.1 L557.5,175.8 L558.0,175.5 L558.5,175.6 L559.0,175.8 L559.5,176.0 L560.0,176.3 L560.5,176.2 L561.0,175.9 L561.5,175.6 L562.0,175.3 L562.5,175.2 L563.0,175.5 L563.5,175.7 L564.0,175.9 L564.5,176.1 L565.0,175.8 L565.5,175.5 L566.0,175.2 L566.5,174.9 L567.0,175.2 L567.5,175.4 L568.0,175.6 L568.5,175.9 L569.0,175.7 L569.5,175.4 L570.0,175.2 L570.5,174.9 L571.0,174.9 L571.5,175.2 L572.0,175.4 L572.5,175.7 L573.0,175.7 L573.5,175.4 L574.0,175.2 L574.5,174.9 L575.0,174.7 L575.5,175.0 L576.0,175.3 L576.5,175.5 L577.0,175.8 L577.5,175.5 L578.0,175.2 L578.5,175.0 L579.0,174.7 L579.5,174.8 L580.0,175.1 L580.5,175.3 L581.0,175.5 L581.5,175.5 L582.0,175.2 L582.5,174.9 L583.0,174.6 L583.5,174.5 L584.0,174.8 L584.5,175.0 L585.0,175.2 L585.5,175.3 L586.0,175.1 L586.5,174.8 L587.0,174.5 L587.5,174.2 L588.0,174.4 L588.5,174.6 L589.0,174.8 L589.5,175.0 L590.0,174.8 L590.5,174.5 L591.0,174.2 L591.5,173.8 L592.0,173.8 L592.5,174.0 L593.0,174.2 L593.5,174.4 L594.0,174.3 L594.5,174.0 L595.0,173.7 L595.5,173.3 L596.0,173.1 L596.5,173.3 L597.0,173.4 L597.5,173.6 L598.0,173.8 L598.5,173.4 L599.0,173.1 L599.5,172.7 L600.0,172.4 L600.5,172.4 L601.0,172.6 L601.5,172.7 L602.0,172.9 L602.5,172.7 L603.0,172.4 L603.5,172.0 L604.0,171.6 L604.5,171.5 L605.0,171.6 L605.5,171.8 L606.0,171.9 L606.5,172.0 L607.0,171.6 L607.5,171.2 L608.0,170.8 L608.5,170.4 L609.0,170.6 L609.5,170.7 L610.0,170.8 L610.5,170.9 L611.0,170.6 L611.5,170.2 L612.0,169.7 L612.5,169.3 L613.0,169.2 L613.5,169.3 L614.0,169.4 L614.5,169.4 L615.0,169.3 L615.5,168.9 L616.0,168.4 L616.5,168.0 L617.0,167.6 L617.5,167.7 L618.0,167.8 L618.5,167.8 L619.0,167.9 L619.5,167.4 L620.0,166.9 L620.5,166.5 L621.0,166.0 L621.5,165.9 L622.0,165.9 L622.5,165.9 L623.0,166.0 L623.5,165.7 L624.0,165.2 L624.5,164.6 L625.0,164.1 L625.5,163.8 L626.0,163.8 L626.5,163.8 L627.0,163.9 L627.5,163.8 L628.0,163.2 L628.5,162.7 L629.0,162.2 L629.5,161.7 L630.0,161.7 L630.5,161.7 L631.0,161.8 L631.5,161.8 L632.0,161.4 L632.5,160.9 L633.0,160.4 L633.5,159.8 L634.0,159.6 L634.5,159.7 L635.0,159.7 L635.5,159.7 L636.0,159.5 L636.5,159.0 L637.0,158.5 L637.5,157.9 L638.0,157.5 L638.5,157.5 L639.0,157.5 L639.5,157.5 L640.0,157.5 L640.5,156.9 L641.0,156.4 L641.5,155.8 L642.0,155.2 L642.5,155.1 L643.0,155.0 L643.5,154.9 L644.0,154.9 L644.5,154.5 L645.0,153.9 L645.5,153.3 L646.0,152.7 L646.5,152.4 L647.0,152.3 L647.5,152.2 L648.0,152.2 L648.5,152.0 L649.0,151.4 L649.5,150.8 L650.0,150.2 L650.5,149.6 L651.0,149.6 L651.5,149.5 L652.0,149.5 L652.5,149.4 L653.0,148.9 L653.5,148.3 L654.0,147.7 L654.5,147.1 L655.0,146.9 L655.5,146.8 L656.0,146.7 L656.5,146.7 L657.0,146.4 L657.5,145.8 L658.0,145.2 L658.5,144.6 L659.0,144.0 L659.5,143.9 L660.0,143.8 L660.5,143.7 L661.0,143.6 L661.5,142.9 L662.0,142.2 L662.5,141.6 L663.0,140.9 L663.5,140.6 L664.0,140.5 L664.5,140.3 L665.0,140.1 L665.5,139.7 L666.0,139.0 L666.5,138.3 L667.0,137.7 L667.5,137.3 L668.0,137.2 L668.5,137.1 L669.0,137.1 L669.5,137.0 L670.0,136.5" fill="none" stroke="#377eb8" stroke-width="1.20" stroke-linejoin="round" stroke-linecap="round" />
<line x1="414.2" y1="28.20" x2="437.2" y2="28.20" stroke="#984ea3" stroke-width="1.3"/>
<text x="442.20" y="31.70" font-size="9.70" text-anchor="start" font-weight="bold" fill="#000" >G10-1.00 µm Pt</text>
<line x1="414.2" y1="39.50" x2="437.2" y2="39.50" stroke="#4daf4a" stroke-width="1.3"/>
<text x="442.20" y="43.00" font-size="9.70" text-anchor="start" font-weight="bold" fill="#000" >G10-0.45 µm Pt</text>
<line x1="414.2" y1="50.80" x2="437.2" y2="50.80" stroke="#377eb8" stroke-width="1.3"/>
<text x="442.20" y="54.30" font-size="9.70" text-anchor="start" font-weight="bold" fill="#000" >G10-0.20 µm Pt</text>
<line x1="414.2" y1="62.10" x2="437.2" y2="62.10" stroke="#e41a1c" stroke-width="1.3"/>
<text x="442.20" y="65.60" font-size="9.70" text-anchor="start" font-weight="bold" fill="#000" >Bare G10</text>
<rect x="42.80" y="320.30" width="288.50" height="207.40" fill="none" stroke="#000" stroke-width="1.30"/>
<line x1="39.40" y1="527.60" x2="42.80" y2="527.60" stroke="#666" stroke-width="1"/>
<text x="34.70" y="531.00" font-size="10.00" text-anchor="end" font-weight="bold" fill="#000" >-40</text>
<line x1="39.40" y1="509.60" x2="42.80" y2="509.60" stroke="#666" stroke-width="1"/>
<text x="34.70" y="513.00" font-size="10.00" text-anchor="end" font-weight="bold" fill="#000" >-20</text>
<line x1="39.40" y1="491.60" x2="42.80" y2="491.60" stroke="#666" stroke-width="1"/>
<text x="34.70" y="495.00" font-size="10.00" text-anchor="end" font-weight="bold" fill="#000" >0</text>
<line x1="39.40" y1="473.60" x2="42.80" y2="473.60" stroke="#666" stroke-width="1"/>
<text x="34.70" y="477.00" font-size="10.00" text-anchor="end" font-weight="bold" fill="#000" >20</text>
<line x1="39.40" y1="455.60" x2="42.80" y2="455.60" stroke="#666" stroke-width="1"/>
<text x="34.70" y="459.00" font-size="10.00" text-anchor="end" font-weight="bold" fill="#000" >40</text>
<line x1="39.40" y1="437.60" x2="42.80" y2="437.60" stroke="#666" stroke-width="1"/>
<text x="34.70" y="441.00" font-size="10.00" text-anchor="end" font-weight="bold" fill="#000" >60</text>
<line x1="39.40" y1="419.60" x2="42.80" y2="419.60" stroke="#666" stroke-width="1"/>
<text x="34.70" y="423.00" font-size="10.00" text-anchor="end" font-weight="bold" fill="#000" >80</text>
<line x1="39.40" y1="401.60" x2="42.80" y2="401.60" stroke="#666" stroke-width="1"/>
<text x="34.70" y="405.00" font-size="10.00" text-anchor="end" font-weight="bold" fill="#000" >100</text>
<line x1="39.40" y1="383.60" x2="42.80" y2="383.60" stroke="#666" stroke-width="1"/>
<text x="34.70" y="387.00" font-size="10.00" text-anchor="end" font-weight="bold" fill="#000" >120</text>
<line x1="39.40" y1="365.60" x2="42.80" y2="365.60" stroke="#666" stroke-width="1"/>
<text x="34.70" y="369.00" font-size="10.00" text-anchor="end" font-weight="bold" fill="#000" >140</text>
<line x1="39.40" y1="347.60" x2="42.80" y2="347.60" stroke="#666" stroke-width="1"/>
<text x="34.70" y="351.00" font-size="10.00" text-anchor="end" font-weight="bold" fill="#000" >160</text>
<line x1="39.40" y1="329.60" x2="42.80" y2="329.60" stroke="#666" stroke-width="1"/>
<text x="34.70" y="333.00" font-size="10.00" text-anchor="end" font-weight="bold" fill="#000" >180</text>
<line x1="55.30" y1="527.60" x2="55.30" y2="530.60" stroke="#777" stroke-width="1"/>
<text x="55.30" y="544.40" font-size="10.00" text-anchor="middle" font-weight="bold" fill="#000" >-0.2</text>
<line x1="90.40" y1="527.60" x2="90.40" y2="530.60" stroke="#777" stroke-width="1"/>
<text x="90.40" y="544.40" font-size="10.00" text-anchor="middle" font-weight="bold" fill="#000" >0.0</text>
<line x1="125.50" y1="527.60" x2="125.50" y2="530.60" stroke="#777" stroke-width="1"/>
<text x="125.50" y="544.40" font-size="10.00" text-anchor="middle" font-weight="bold" fill="#000" >0.2</text>
<line x1="160.60" y1="527.60" x2="160.60" y2="530.60" stroke="#777" stroke-width="1"/>
<text x="160.60" y="544.40" font-size="10.00" text-anchor="middle" font-weight="bold" fill="#000" >0.4</text>
<line x1="195.70" y1="527.60" x2="195.70" y2="530.60" stroke="#777" stroke-width="1"/>
<text x="195.70" y="544.40" font-size="10.00" text-anchor="middle" font-weight="bold" fill="#000" >0.6</text>
<line x1="230.80" y1="527.60" x2="230.80" y2="530.60" stroke="#777" stroke-width="1"/>
<text x="230.80" y="544.40" font-size="10.00" text-anchor="middle" font-weight="bold" fill="#000" >0.8</text>
<line x1="265.90" y1="527.60" x2="265.90" y2="530.60" stroke="#777" stroke-width="1"/>
<text x="265.90" y="544.40" font-size="10.00" text-anchor="middle" font-weight="bold" fill="#000" >1.0</text>
<line x1="301.00" y1="527.60" x2="301.00" y2="530.60" stroke="#777" stroke-width="1"/>
<text x="301.00" y="544.40" font-size="10.00" text-anchor="middle" font-weight="bold" fill="#000" >1.2</text>
<text transform="translate(10.60,423.90) rotate(-90)" x="0" y="0" font-size="9.82" text-anchor="middle" font-weight="bold">Current Density (mA.cm<tspan font-size="5.89" dy="-4">-2</tspan><tspan dy="4">)</tspan></text>
<text x="186.70" y="562.80" font-size="9.80" text-anchor="middle" font-weight="bold" fill="#000" >Potential (V vs. Ag/AgCl)</text>
<text x="166.00" y="600.70" font-size="16.60" text-anchor="middle" font-weight="normal" fill="#000" stroke="#000" stroke-width="0.5">c)</text>
<path d="M52.4,492.8 L53.4,492.6 L54.4,492.5 L55.4,492.4 L56.4,492.2 L57.4,492.1 L58.4,492.0 L59.4,491.9 L60.4,491.8 L61.4,491.7 L62.4,491.6 L63.4,491.5 L64.4,491.5 L65.4,491.4 L66.4,491.4 L67.4,491.3 L68.4,491.3 L69.4,491.2 L70.4,491.2 L71.4,491.2 L72.4,491.1 L73.4,491.1 L74.4,491.1 L75.4,491.1 L76.4,491.1 L77.4,491.1 L78.4,491.1 L79.4,491.1 L80.4,491.1 L81.4,491.1 L82.4,491.1 L83.4,491.2 L84.4,491.2 L85.4,491.2 L86.4,491.2 L87.4,491.2 L88.5,491.3 L89.5,491.3 L90.5,491.3 L91.5,491.3 L92.5,491.4 L93.5,491.4 L94.5,491.4 L95.5,491.5 L96.5,491.5 L97.5,491.5 L98.5,491.5 L99.5,491.5 L100.5,491.6 L101.5,491.6 L102.5,491.6 L103.5,491.6 L104.5,491.6 L105.5,491.6 L106.5,491.7 L107.6,491.7 L108.6,491.7 L109.6,491.7 L110.6,491.7 L111.6,491.7 L112.6,491.7 L113.6,491.7 L114.6,491.7 L115.6,491.7 L116.6,491.7 L117.6,491.7 L118.6,491.7 L119.6,491.7 L120.6,491.7 L121.6,491.7 L122.6,491.7 L123.6,491.7 L124.6,491.7 L125.6,491.7 L126.6,491.6 L127.6,491.6 L128.6,491.6 L129.6,491.6 L130.6,491.6 L131.6,491.6 L132.6,491.6 L133.6,491.6 L134.7,491.6 L135.7,491.6 L136.7,491.6 L137.7,491.6 L138.7,491.6 L139.7,491.6 L140.7,491.6 L141.7,491.6 L142.7,491.6 L143.7,491.6 L144.7,491.6 L145.7,491.6 L146.7,491.5 L147.7,491.5 L148.7,491.5 L149.7,491.5 L150.7,491.5 L151.7,491.5 L152.7,491.5 L153.7,491.5 L154.7,491.5 L155.7,491.5 L156.7,491.5 L157.7,491.5 L158.7,491.5 L159.8,491.5 L160.8,491.5 L161.8,491.5 L162.8,491.5 L163.8,491.5 L164.8,491.5 L165.8,491.5 L166.8,491.5 L167.8,491.5 L168.8,491.5 L169.8,491.5 L170.8,491.5 L171.8,491.5 L172.8,491.5 L173.8,491.5 L174.8,491.5 L175.8,491.5 L176.8,491.5 L177.8,491.5 L178.8,491.5 L179.8,491.5 L180.8,491.5 L181.8,491.5 L182.9,491.5 L183.9,491.5 L184.9,491.5 L185.9,491.5 L186.9,491.5 L187.9,491.5 L188.9,491.5 L189.9,491.5 L190.9,491.5 L191.9,491.5 L192.9,491.4 L193.9,491.4 L194.9,491.4 L195.9,491.4 L196.9,491.4 L197.9,491.4 L198.9,491.4 L199.9,491.4 L200.9,491.4 L201.9,491.4 L202.9,491.4 L203.9,491.4 L204.9,491.4 L205.9,491.4 L206.9,491.3 L207.9,491.3 L208.9,491.3 L209.9,491.3 L210.9,491.3 L212.0,491.3 L213.0,491.3 L214.0,491.3 L215.0,491.2 L216.0,491.2 L217.0,491.2 L218.0,491.2 L219.0,491.2 L220.0,491.2 L221.0,491.2 L222.0,491.1 L223.0,491.1 L224.0,491.1 L225.0,491.1 L226.0,491.1 L227.0,491.0 L228.0,491.0 L229.0,491.0 L230.0,491.0 L231.0,490.9 L232.0,490.9 L233.0,490.9 L234.0,490.8 L235.0,490.8 L236.0,490.8 L237.0,490.7 L238.0,490.7 L239.0,490.7 L240.0,490.6 L241.0,490.6 L242.0,490.5 L243.0,490.5 L244.0,490.4 L245.0,490.4 L246.0,490.3 L247.0,490.2 L248.0,490.2 L249.0,490.1 L250.0,490.0 L251.0,489.9 L252.0,489.9 L253.0,489.8 L254.1,489.7 L255.1,489.6 L256.1,489.5 L257.1,489.4 L258.1,489.3 L259.1,489.2 L260.1,489.1 L261.1,489.0 L262.1,488.9 L263.1,488.8 L264.1,488.6 L265.1,488.5 L266.1,488.4 L267.2,488.2 L268.2,488.1 L269.2,487.9 L270.2,487.8 L271.2,487.6 L272.2,487.4 L273.2,487.2 L274.2,487.0 L275.2,486.8 L276.2,486.6 L277.1,486.3 L278.0,486.0 L279.0,485.7 L279.9,485.3 L280.7,484.9 L281.6,484.4 L282.4,484.0 L283.2,483.4 L284.0,482.9 L284.7,482.3 L285.4,481.6 L286.1,480.9 L286.7,480.2 L287.4,479.5 L288.0,478.7 L288.6,477.9 L289.2,477.1 L289.7,476.3 L290.3,475.4 L290.8,474.5 L291.4,473.7 L291.9,472.8 L292.4,471.9 L292.9,471.0 L293.4,470.1 L294.0,469.2 L294.5,468.3 L295.0,467.4 L295.5,466.5 L296.1,465.7 L296.6,464.8 L297.2,464.0 L297.7,463.1 L298.3,462.3 L298.9,461.4 L299.4,460.6 L300.0,459.8 L300.5,459.0 L301.1,458.1 L301.7,457.3 L302.2,456.5 L302.8,455.7 L303.3,454.8 L303.9,454.0 L304.4,453.2 L305.0,452.3 L305.5,451.5 L306.0,450.7 L306.5,449.8 L307.1,448.9 L307.6,448.1 L308.1,447.2 L308.6,446.4 L309.1,445.5 L309.6,444.6 L310.1,443.8 L310.6,442.9 L311.1,442.0 L311.6,441.1 L312.1,440.3 L312.6,439.4 L313.1,438.5 L313.6,437.7 L314.1,436.8 L314.6,435.9 L315.1,435.0 L315.6,434.2 L316.1,433.3 L316.6,432.5 L317.2,431.6 L317.7,430.7 L318.2,429.9 L318.7,429.0 L319.3,428.2 L319.8,427.4 L320.3,426.5 L320.9,425.7 L320.7,426.7 L320.4,427.6 L320.1,428.6 L319.8,429.6 L319.5,430.5 L319.2,431.5 L318.9,432.4 L318.6,433.4 L318.3,434.3 L317.9,435.3 L317.5,436.2 L317.2,437.2 L316.8,438.1 L316.4,439.1 L316.0,440.0 L315.6,440.9 L315.2,441.9 L314.7,442.8 L314.3,443.7 L313.8,444.6 L313.4,445.5 L312.9,446.4 L312.4,447.3 L311.9,448.1 L311.4,449.0 L310.9,449.9 L310.3,450.7 L309.8,451.5 L309.3,452.4 L308.7,453.2 L308.1,454.0 L307.6,454.8 L307.0,455.6 L306.4,456.4 L305.8,457.2 L305.2,458.0 L304.6,458.8 L304.0,459.6 L303.4,460.3 L302.8,461.1 L302.2,461.9 L301.6,462.7 L301.0,463.5 L300.4,464.3 L299.8,465.2 L299.2,466.0 L298.6,466.8 L298.0,467.7 L297.4,468.5 L296.8,469.4 L296.2,470.2 L295.6,471.0 L295.0,471.9 L294.4,472.7 L293.8,473.5 L293.2,474.4 L292.6,475.2 L292.0,476.0 L291.3,476.8 L290.7,477.6 L290.0,478.3 L289.4,479.1 L288.7,479.8 L288.0,480.5 L287.3,481.2 L286.6,481.8 L285.8,482.5 L285.1,483.1 L284.3,483.7 L283.5,484.2 L282.7,484.7 L281.9,485.2 L281.0,485.7 L280.1,486.1 L279.2,486.5 L278.3,486.8 L277.4,487.2 L276.4,487.4 L275.4,487.7 L274.5,487.9 L273.5,488.1 L272.5,488.3 L271.4,488.5 L270.4,488.7 L269.4,488.8 L268.4,489.0 L267.4,489.1 L266.4,489.2 L265.4,489.4 L264.4,489.5 L263.4,489.6 L262.3,489.7 L261.3,489.8 L260.3,489.9 L259.3,490.0 L258.3,490.1 L257.3,490.2 L256.3,490.2 L255.3,490.3 L254.3,490.4 L253.3,490.5 L252.3,490.6 L251.3,490.6 L250.3,490.7 L249.3,490.8 L248.3,490.8 L247.3,490.9 L246.3,490.9 L245.3,491.0 L244.3,491.1 L243.3,491.1 L242.3,491.2 L241.3,491.2 L240.2,491.3 L239.2,491.3 L238.2,491.4 L237.2,491.4 L236.2,491.5 L235.2,491.5 L234.2,491.5 L233.2,491.6 L232.2,491.6 L231.2,491.6 L230.2,491.7 L229.2,491.7 L228.2,491.7 L227.2,491.8 L226.2,491.8 L225.2,491.8 L224.2,491.9 L223.2,491.9 L222.2,491.9 L221.2,491.9 L220.2,492.0 L219.2,492.0 L218.2,492.0 L217.2,492.0 L216.1,492.0 L215.1,492.0 L214.1,492.1 L213.1,492.1 L212.1,492.1 L211.1,492.1 L210.1,492.1 L209.1,492.1 L208.1,492.1 L207.1,492.1 L206.1,492.1 L205.1,492.2 L204.1,492.2 L203.1,492.2 L202.1,492.2 L201.1,492.2 L200.1,492.2 L199.1,492.2 L198.1,492.2 L197.1,492.2 L196.1,492.2 L195.1,492.2 L194.1,492.2 L193.1,492.2 L192.0,492.2 L191.0,492.2 L190.0,492.2 L189.0,492.2 L188.0,492.2 L187.0,492.2 L186.0,492.2 L185.0,492.2 L184.0,492.2 L183.0,492.2 L182.0,492.2 L181.0,492.2 L180.0,492.2 L179.0,492.2 L178.0,492.2 L177.0,492.2 L176.0,492.2 L175.0,492.2 L174.0,492.2 L173.0,492.2 L172.0,492.2 L171.0,492.2 L170.0,492.2 L168.9,492.2 L167.9,492.2 L166.9,492.2 L165.9,492.2 L164.9,492.3 L163.9,492.3 L162.9,492.3 L161.9,492.3 L160.9,492.3 L159.9,492.3 L158.9,492.3 L157.9,492.3 L156.9,492.3 L155.9,492.3 L154.9,492.3 L153.9,492.3 L152.9,492.4 L151.9,492.4 L150.9,492.4 L149.9,492.4 L148.8,492.4 L147.8,492.4 L146.8,492.4 L145.8,492.5 L144.8,492.5 L143.8,492.5 L142.8,492.5 L141.8,492.5 L140.8,492.6 L139.8,492.6 L138.8,492.6 L137.8,492.6 L136.8,492.6 L135.8,492.6 L134.8,492.7 L133.8,492.7 L132.8,492.7 L131.8,492.7 L130.7,492.7 L129.7,492.8 L128.7,492.8 L127.7,492.8 L126.7,492.8 L125.7,492.9 L124.7,492.9 L123.7,492.9 L122.7,492.9 L121.7,492.9 L120.7,493.0 L119.7,493.0 L118.7,493.0 L117.7,493.0 L116.7,493.1 L115.7,493.1 L114.7,493.1 L113.7,493.1 L112.6,493.1 L111.6,493.2 L110.6,493.2 L109.6,493.2 L108.6,493.2 L107.6,493.2 L106.6,493.3 L105.6,493.3 L104.6,493.3 L103.6,493.3 L102.6,493.3 L101.6,493.4 L100.6,493.4 L99.6,493.4 L98.6,493.4 L97.6,493.4 L96.6,493.4 L95.6,493.5 L94.6,493.5 L93.6,493.5 L92.5,493.5 L91.5,493.5 L90.5,493.5 L89.5,493.5 L88.5,493.6 L87.5,493.6 L86.5,493.6 L85.5,493.6 L84.5,493.6 L83.5,493.6 L82.5,493.6 L81.5,493.6 L80.5,493.6 L79.5,493.6 L78.5,493.7 L77.5,493.7 L76.5,493.7 L75.5,493.7 L74.5,493.7 L73.5,493.7 L72.5,493.7 L71.5,493.7 L70.5,493.7 L69.5,493.7 L68.4,493.7 L67.4,493.7 L66.4,493.7 L65.4,493.7 L64.4,493.7 L63.4,493.6 L62.4,493.6 L61.4,493.6 L60.4,493.6 L59.4,493.6 L58.4,493.6 L57.4,493.6 L56.4,493.6 L55.4,493.6 L54.4,493.5 L53.4,493.5 L52.4,493.5" fill="none" stroke="#e41a1c" stroke-width="1.50" stroke-linejoin="round" stroke-linecap="round" />
<path d="M52.9,498.5 L52.9,497.3 L53.1,496.2 L53.4,495.2 L53.9,494.3 L54.4,493.5 L55.0,492.7 L55.7,492.1 L56.4,491.5 L57.2,491.0 L58.1,490.5 L59.0,490.0 L59.9,489.7 L60.8,489.3 L61.7,489.0 L62.7,488.7 L63.7,488.5 L64.7,488.2 L65.6,488.0 L66.7,487.9 L67.7,487.7 L68.7,487.6 L69.7,487.5 L70.7,487.5 L71.7,487.4 L72.8,487.4 L73.8,487.3 L74.8,487.3 L75.8,487.3 L76.9,487.3 L77.9,487.3 L78.9,487.4 L79.9,487.4 L80.9,487.5 L81.9,487.5 L82.9,487.6 L83.9,487.7 L84.9,487.7 L85.9,487.8 L86.9,487.9 L87.9,488.0 L88.9,488.1 L89.9,488.2 L90.9,488.3 L91.9,488.4 L92.9,488.6 L93.9,488.7 L94.9,488.8 L95.9,488.9 L96.9,489.0 L97.9,489.1 L98.9,489.2 L99.9,489.3 L100.9,489.4 L101.9,489.5 L102.9,489.6 L103.9,489.7 L104.9,489.8 L105.9,489.9 L106.9,490.0 L107.9,490.1 L108.9,490.2 L109.9,490.2 L110.9,490.3 L111.9,490.4 L112.9,490.4 L113.9,490.5 L114.9,490.6 L115.9,490.6 L116.9,490.7 L117.9,490.7 L118.9,490.8 L119.9,490.8 L120.9,490.9 L121.9,490.9 L122.9,491.0 L123.9,491.0 L124.9,491.1 L125.9,491.1 L126.9,491.1 L127.9,491.2 L129.0,491.2 L130.0,491.2 L131.0,491.2 L132.0,491.3 L133.0,491.3 L134.0,491.3 L135.0,491.3 L136.0,491.3 L137.0,491.3 L138.0,491.3 L139.0,491.4 L140.0,491.4 L141.0,491.4 L142.0,491.4 L143.0,491.4 L144.0,491.4 L145.0,491.4 L146.0,491.4 L147.1,491.4 L148.1,491.3 L149.1,491.3 L150.1,491.3 L151.1,491.3 L152.1,491.3 L153.1,491.3 L154.1,491.3 L155.1,491.3 L156.1,491.2 L157.1,491.2 L158.1,491.2 L159.1,491.2 L160.1,491.2 L161.2,491.1 L162.2,491.1 L163.2,491.1 L164.2,491.1 L165.2,491.0 L166.2,491.0 L167.2,491.0 L168.2,490.9 L169.2,490.9 L170.2,490.9 L171.2,490.8 L172.2,490.8 L173.2,490.8 L174.3,490.7 L175.3,490.7 L176.3,490.7 L177.3,490.6 L178.3,490.6 L179.3,490.6 L180.3,490.5 L181.3,490.5 L182.3,490.4 L183.3,490.4 L184.3,490.4 L185.3,490.3 L186.3,490.3 L187.3,490.3 L188.3,490.2 L189.4,490.2 L190.4,490.1 L191.4,490.1 L192.4,490.1 L193.4,490.0 L194.4,490.0 L195.4,489.9 L196.4,489.9 L197.4,489.9 L198.4,489.8 L199.4,489.8 L200.4,489.7 L201.4,489.7 L202.4,489.7 L203.4,489.6 L204.4,489.6 L205.4,489.5 L206.4,489.5 L207.4,489.5 L208.5,489.4 L209.5,489.4 L210.5,489.4 L211.5,489.3 L212.5,489.3 L213.5,489.2 L214.5,489.2 L215.5,489.2 L216.5,489.1 L217.5,489.1 L218.5,489.0 L219.5,489.0 L220.5,489.0 L221.5,488.9 L222.5,488.9 L223.5,488.8 L224.5,488.8 L225.5,488.8 L226.5,488.7 L227.5,488.7 L228.5,488.6 L229.5,488.6 L230.5,488.5 L231.5,488.5 L232.5,488.4 L233.5,488.4 L234.6,488.3 L235.6,488.3 L236.6,488.2 L237.6,488.2 L238.6,488.1 L239.6,488.1 L240.6,488.0 L241.6,488.0 L242.6,487.9 L243.6,487.9 L244.6,487.8 L245.6,487.7 L246.6,487.7 L247.6,487.6 L248.6,487.6 L249.6,487.5 L250.6,487.4 L251.6,487.4 L252.6,487.3 L253.7,487.2 L254.7,487.1 L255.7,487.1 L256.7,487.0 L257.7,486.9 L258.7,486.8 L259.7,486.8 L260.7,486.7 L261.7,486.6 L262.7,486.5 L263.7,486.4 L264.7,486.3 L265.8,486.2 L266.8,486.1 L267.8,486.1 L268.8,486.0 L269.8,485.9 L270.8,485.8 L271.8,485.7 L272.8,485.5 L273.8,485.4 L274.8,485.3 L275.8,485.1 L276.8,484.9 L277.7,484.7 L278.7,484.5 L279.6,484.2 L280.5,483.9 L281.4,483.5 L282.3,483.1 L283.1,482.6 L283.9,482.1 L284.7,481.6 L285.4,480.9 L286.2,480.2 L286.8,479.5 L287.5,478.7 L288.2,477.9 L288.8,477.1 L289.4,476.3 L290.0,475.4 L290.6,474.6 L291.2,473.7 L291.8,472.8 L292.4,472.0 L293.0,471.1 L293.6,470.3 L294.2,469.4 L294.7,468.6 L295.3,467.7 L295.8,466.9 L296.4,466.0 L296.9,465.2 L297.5,464.3 L298.0,463.4 L298.5,462.6 L299.1,461.7 L299.6,460.9 L300.1,460.0 L300.6,459.2 L301.2,458.3 L301.7,457.4 L302.2,456.6 L302.7,455.7 L303.2,454.9 L303.7,454.0 L304.2,453.1 L304.7,452.3 L305.2,451.4 L305.7,450.6 L306.2,449.7 L306.7,448.8 L307.2,448.0 L307.7,447.1 L308.2,446.3 L308.7,445.4 L309.3,444.5 L309.8,443.7 L310.3,442.8 L310.8,442.0 L311.3,441.1 L311.8,440.2 L312.3,439.4 L312.8,438.5 L313.3,437.7 L313.8,436.8 L314.4,436.0 L314.9,435.1 L315.4,434.2 L315.9,433.4 L316.5,432.5 L317.0,431.7 L317.6,430.8 L318.1,430.0 L318.7,429.1 L319.2,428.3 L319.8,427.4 L320.3,426.6 L320.9,425.7 L320.6,426.7 L320.3,427.6 L319.9,428.6 L319.6,429.5 L319.2,430.4 L318.8,431.4 L318.5,432.3 L318.1,433.2 L317.6,434.1 L317.2,435.0 L316.8,435.9 L316.4,436.8 L315.9,437.7 L315.4,438.6 L315.0,439.5 L314.5,440.4 L314.0,441.3 L313.5,442.2 L313.0,443.0 L312.5,443.9 L312.0,444.8 L311.5,445.7 L311.0,446.5 L310.5,447.4 L310.0,448.2 L309.4,449.1 L308.9,449.9 L308.4,450.8 L307.8,451.6 L307.3,452.5 L306.7,453.3 L306.2,454.2 L305.7,455.0 L305.1,455.9 L304.6,456.7 L304.0,457.5 L303.5,458.4 L302.9,459.2 L302.4,460.1 L301.9,460.9 L301.3,461.7 L300.8,462.6 L300.2,463.4 L299.7,464.2 L299.1,465.1 L298.6,465.9 L298.0,466.8 L297.5,467.6 L296.9,468.4 L296.4,469.3 L295.8,470.1 L295.3,471.0 L294.7,471.9 L294.1,472.7 L293.6,473.6 L293.0,474.4 L292.4,475.3 L291.8,476.1 L291.2,477.0 L290.6,477.8 L290.0,478.6 L289.3,479.4 L288.7,480.1 L288.0,480.9 L287.3,481.6 L286.5,482.2 L285.8,482.8 L285.0,483.4 L284.2,484.0 L283.4,484.5 L282.6,485.0 L281.7,485.4 L280.8,485.8 L279.9,486.1 L279.0,486.5 L278.0,486.8 L277.1,487.1 L276.1,487.3 L275.1,487.5 L274.1,487.8 L273.1,488.0 L272.1,488.2 L271.1,488.3 L270.1,488.5 L269.1,488.7 L268.1,488.8 L267.1,489.0 L266.1,489.1 L265.1,489.3 L264.1,489.4 L263.1,489.5 L262.1,489.6 L261.1,489.8 L260.1,489.9 L259.1,490.0 L258.1,490.1 L257.1,490.2 L256.1,490.3 L255.1,490.4 L254.1,490.5 L253.1,490.6 L252.1,490.7 L251.1,490.7 L250.1,490.8 L249.1,490.9 L248.1,491.0 L247.1,491.0 L246.1,491.1 L245.1,491.2 L244.1,491.2 L243.1,491.3 L242.1,491.3 L241.1,491.4 L240.1,491.5 L239.1,491.5 L238.1,491.6 L237.0,491.6 L236.0,491.7 L235.0,491.7 L234.0,491.8 L233.0,491.8 L232.0,491.9 L231.0,491.9 L230.0,492.0 L229.0,492.0 L228.0,492.1 L227.0,492.1 L226.0,492.2 L225.0,492.2 L224.0,492.3 L223.0,492.3 L222.0,492.4 L221.0,492.5 L220.0,492.5 L219.0,492.6 L218.0,492.6 L217.0,492.7 L216.0,492.8 L215.0,492.8 L214.0,492.9 L213.0,492.9 L212.0,493.0 L211.0,493.1 L210.0,493.2 L209.0,493.2 L208.0,493.3 L207.0,493.4 L206.0,493.5 L205.0,493.6 L204.0,493.6 L203.0,493.7 L202.0,493.8 L201.0,493.9 L200.0,494.0 L199.0,494.1 L198.0,494.2 L197.0,494.3 L196.0,494.4 L195.0,494.6 L194.0,494.7 L193.0,494.8 L192.0,494.9 L191.0,495.0 L190.0,495.1 L189.0,495.2 L188.0,495.3 L187.0,495.5 L186.0,495.6 L185.0,495.7 L184.0,495.8 L183.0,495.9 L182.0,496.0 L181.0,496.1 L180.0,496.2 L179.0,496.2 L178.0,496.3 L177.0,496.4 L176.0,496.5 L175.0,496.6 L174.0,496.6 L173.0,496.7 L172.0,496.8 L171.0,496.8 L170.0,496.9 L169.0,496.9 L168.0,496.9 L167.0,497.0 L166.0,497.0 L165.0,497.0 L164.0,497.0 L163.0,497.1 L162.0,497.1 L161.0,497.0 L160.0,497.0 L159.0,497.0 L158.0,497.0 L157.0,496.9 L156.0,496.9 L155.0,496.9 L154.0,496.8 L153.0,496.7 L152.0,496.7 L151.0,496.6 L150.0,496.5 L149.0,496.5 L148.0,496.4 L147.0,496.3 L146.0,496.2 L145.0,496.1 L144.0,496.0 L143.0,495.9 L142.0,495.8 L140.9,495.7 L139.9,495.6 L138.9,495.5 L137.9,495.4 L136.9,495.3 L135.9,495.2 L134.9,495.1 L133.9,495.0 L132.9,494.9 L131.9,494.8 L130.9,494.7 L129.9,494.6 L128.9,494.5 L127.9,494.4 L126.9,494.3 L125.9,494.2 L124.9,494.2 L123.9,494.1 L122.9,494.0 L121.9,493.9 L120.9,493.9 L119.9,493.8 L118.9,493.8 L117.9,493.7 L116.9,493.7 L115.9,493.7 L114.9,493.6 L113.9,493.6 L112.9,493.6 L111.9,493.6 L110.9,493.6 L109.9,493.6 L108.9,493.6 L107.9,493.6 L106.8,493.6 L105.8,493.6 L104.8,493.7 L103.8,493.7 L102.8,493.7 L101.8,493.8 L100.8,493.8 L99.8,493.9 L98.8,493.9 L97.8,494.0 L96.8,494.1 L95.8,494.1 L94.8,494.2 L93.8,494.3 L92.8,494.4 L91.8,494.5 L90.8,494.6 L89.8,494.7 L88.8,494.8 L87.8,494.9 L86.8,495.0 L85.8,495.1 L84.8,495.2 L83.8,495.3 L82.8,495.5 L81.8,495.6 L80.8,495.7 L79.8,495.9 L78.8,496.0 L77.8,496.2 L76.8,496.3 L75.8,496.5 L74.8,496.6 L73.8,496.8 L72.9,496.9 L71.9,497.1 L70.9,497.2 L69.9,497.4 L68.9,497.5 L67.9,497.6 L66.9,497.7 L65.9,497.9 L64.9,498.0 L63.9,498.1 L62.9,498.2 L61.9,498.3 L60.9,498.4 L59.9,498.4 L58.9,498.5 L57.9,498.5 L56.9,498.5 L55.9,498.6 L54.9,498.6 L53.9,498.5 L52.9,498.5" fill="none" stroke="#377eb8" stroke-width="1.40" stroke-linejoin="round" stroke-linecap="round" />
<path d="M52.9,502.7 L52.8,501.6 L52.8,500.6 L52.9,499.5 L53.1,498.5 L53.3,497.4 L53.5,496.5 L53.8,495.5 L54.2,494.6 L54.7,493.7 L55.2,492.8 L55.7,492.0 L56.3,491.3 L57.0,490.6 L57.7,489.9 L58.5,489.3 L59.3,488.8 L60.2,488.3 L61.1,487.9 L62.0,487.5 L62.9,487.2 L63.9,486.9 L64.9,486.6 L65.9,486.3 L66.9,486.1 L67.9,485.9 L68.9,485.8 L69.9,485.6 L70.9,485.5 L71.9,485.4 L72.9,485.3 L73.9,485.2 L74.9,485.2 L75.9,485.2 L76.9,485.1 L77.9,485.1 L78.9,485.2 L79.9,485.2 L80.9,485.2 L81.9,485.3 L82.9,485.4 L83.9,485.4 L84.9,485.5 L85.9,485.6 L86.9,485.7 L87.9,485.8 L88.9,485.9 L89.9,486.1 L90.9,486.2 L91.9,486.3 L92.9,486.4 L93.9,486.6 L94.9,486.7 L95.9,486.8 L96.9,487.0 L97.9,487.1 L98.9,487.2 L99.9,487.4 L100.9,487.5 L101.9,487.6 L102.8,487.8 L103.8,487.9 L104.8,488.0 L105.8,488.1 L106.8,488.3 L107.8,488.4 L108.8,488.5 L109.8,488.6 L110.8,488.7 L111.8,488.9 L112.8,489.0 L113.8,489.1 L114.8,489.2 L115.8,489.3 L116.8,489.4 L117.8,489.5 L118.8,489.6 L119.8,489.7 L120.8,489.8 L121.7,489.9 L122.7,490.0 L123.7,490.1 L124.7,490.2 L125.7,490.2 L126.7,490.3 L127.7,490.4 L128.7,490.4 L129.7,490.5 L130.7,490.6 L131.7,490.6 L132.7,490.7 L133.7,490.7 L134.7,490.8 L135.7,490.8 L136.7,490.8 L137.7,490.9 L138.8,490.9 L139.8,490.9 L140.8,491.0 L141.8,491.0 L142.8,491.0 L143.8,491.0 L144.8,491.0 L145.8,491.0 L146.8,491.0 L147.8,491.0 L148.8,491.0 L149.8,491.0 L150.8,491.0 L151.8,491.0 L152.8,491.0 L153.9,491.0 L154.9,491.0 L155.9,490.9 L156.9,490.9 L157.9,490.9 L158.9,490.9 L159.9,490.8 L160.9,490.8 L161.9,490.8 L162.9,490.7 L163.9,490.7 L164.9,490.7 L166.0,490.6 L167.0,490.6 L168.0,490.6 L169.0,490.5 L170.0,490.5 L171.0,490.4 L172.0,490.4 L173.0,490.3 L174.0,490.3 L175.0,490.2 L176.0,490.2 L177.0,490.1 L178.0,490.1 L179.0,490.0 L180.0,489.9 L181.0,489.9 L182.0,489.8 L183.0,489.8 L184.0,489.7 L185.0,489.6 L186.0,489.6 L187.0,489.5 L188.0,489.5 L189.0,489.4 L190.0,489.3 L191.0,489.3 L192.0,489.2 L193.0,489.1 L194.0,489.1 L195.0,489.0 L196.0,489.0 L197.0,488.9 L198.0,488.8 L199.0,488.8 L200.0,488.7 L201.0,488.6 L202.0,488.6 L203.0,488.5 L204.0,488.4 L205.0,488.4 L206.0,488.3 L207.0,488.2 L208.0,488.2 L209.0,488.1 L210.0,488.0 L211.0,488.0 L212.0,487.9 L213.0,487.8 L214.0,487.8 L215.0,487.7 L216.0,487.6 L216.9,487.6 L217.9,487.5 L218.9,487.4 L219.9,487.4 L220.9,487.3 L221.9,487.2 L222.9,487.2 L223.9,487.1 L224.9,487.0 L225.9,487.0 L226.9,486.9 L227.9,486.9 L229.0,486.8 L230.0,486.7 L231.0,486.7 L232.0,486.6 L233.0,486.6 L234.0,486.5 L235.0,486.4 L236.0,486.4 L237.0,486.3 L238.0,486.3 L239.0,486.2 L240.0,486.2 L241.0,486.1 L242.0,486.1 L243.0,486.0 L244.1,486.0 L245.1,485.9 L246.1,485.9 L247.1,485.8 L248.1,485.8 L249.1,485.7 L250.2,485.7 L251.2,485.6 L252.2,485.6 L253.2,485.6 L254.2,485.5 L255.3,485.5 L256.3,485.4 L257.3,485.4 L258.3,485.4 L259.3,485.3 L260.4,485.3 L261.4,485.2 L262.4,485.2 L263.4,485.1 L264.4,485.0 L265.4,484.9 L266.4,484.8 L267.4,484.7 L268.4,484.5 L269.4,484.4 L270.4,484.2 L271.3,484.0 L272.3,483.7 L273.2,483.5 L274.2,483.2 L275.1,482.9 L276.0,482.6 L276.9,482.2 L277.8,481.8 L278.7,481.4 L279.5,480.9 L280.4,480.4 L281.2,479.9 L282.0,479.3 L282.8,478.8 L283.6,478.2 L284.4,477.5 L285.2,476.9 L285.9,476.2 L286.6,475.5 L287.3,474.8 L288.0,474.1 L288.7,473.3 L289.3,472.5 L290.0,471.7 L290.6,470.9 L291.2,470.1 L291.7,469.3 L292.3,468.5 L292.8,467.6 L293.4,466.8 L293.9,465.9 L294.4,465.0 L294.9,464.2 L295.4,463.3 L295.9,462.4 L296.4,461.5 L296.9,460.6 L297.4,459.7 L297.9,458.9 L298.4,458.0 L298.9,457.1 L299.4,456.2 L299.9,455.3 L300.4,454.5 L300.9,453.6 L301.5,452.8 L302.0,451.9 L302.6,451.1 L303.1,450.2 L303.6,449.4 L304.2,448.5 L304.7,447.7 L305.2,446.8 L305.8,446.0 L306.3,445.1 L306.8,444.3 L307.3,443.4 L307.8,442.6 L308.3,441.7 L308.7,440.8 L309.2,439.9 L309.6,439.0 L310.0,438.1 L310.4,437.2 L310.8,436.3 L311.2,435.3 L311.5,434.4 L311.9,433.4 L312.2,432.5 L312.6,431.5 L312.9,430.6 L313.2,429.6 L313.6,428.7 L313.9,427.7 L314.2,426.8 L314.5,425.8 L314.9,424.9 L315.2,423.9 L315.6,423.0 L316.0,422.0 L316.3,421.1 L316.7,420.2 L317.2,419.3 L317.6,418.4 L318.1,417.5 L318.5,416.6 L319.0,415.7 L319.6,414.9 L320.1,414.0 L320.7,413.2 L320.5,414.2 L320.3,415.2 L320.1,416.3 L319.8,417.3 L319.5,418.2 L319.3,419.2 L319.0,420.2 L318.7,421.2 L318.4,422.1 L318.1,423.1 L317.7,424.0 L317.4,425.0 L317.0,425.9 L316.7,426.8 L316.3,427.7 L315.9,428.6 L315.5,429.6 L315.1,430.5 L314.7,431.4 L314.3,432.3 L313.9,433.2 L313.4,434.0 L313.0,434.9 L312.6,435.8 L312.1,436.7 L311.7,437.6 L311.2,438.5 L310.8,439.4 L310.3,440.2 L309.8,441.1 L309.4,442.0 L308.9,442.9 L308.4,443.7 L307.9,444.6 L307.5,445.5 L307.0,446.4 L306.5,447.3 L306.1,448.2 L305.6,449.1 L305.1,450.0 L304.6,450.9 L304.2,451.8 L303.7,452.7 L303.2,453.6 L302.8,454.5 L302.3,455.4 L301.8,456.3 L301.4,457.2 L300.9,458.1 L300.4,459.0 L299.9,459.9 L299.5,460.8 L299.0,461.7 L298.5,462.6 L298.0,463.5 L297.5,464.4 L297.0,465.3 L296.5,466.2 L296.0,467.1 L295.5,467.9 L294.9,468.8 L294.4,469.7 L293.8,470.5 L293.3,471.3 L292.7,472.2 L292.1,473.0 L291.6,473.8 L291.0,474.6 L290.3,475.4 L289.7,476.1 L289.1,476.9 L288.4,477.7 L287.8,478.4 L287.1,479.1 L286.4,479.8 L285.7,480.5 L285.0,481.2 L284.2,481.8 L283.5,482.5 L282.7,483.1 L281.9,483.7 L281.1,484.2 L280.3,484.8 L279.4,485.3 L278.6,485.8 L277.7,486.2 L276.8,486.6 L275.9,487.0 L274.9,487.4 L274.0,487.8 L273.1,488.1 L272.1,488.4 L271.1,488.7 L270.2,488.9 L269.2,489.2 L268.2,489.4 L267.2,489.7 L266.3,489.9 L265.3,490.1 L264.3,490.3 L263.3,490.5 L262.3,490.6 L261.3,490.8 L260.3,490.9 L259.3,491.1 L258.3,491.2 L257.3,491.3 L256.3,491.4 L255.3,491.5 L254.3,491.6 L253.3,491.7 L252.3,491.8 L251.3,491.9 L250.3,491.9 L249.2,492.0 L248.2,492.1 L247.2,492.1 L246.2,492.2 L245.2,492.2 L244.2,492.3 L243.2,492.3 L242.1,492.3 L241.1,492.4 L240.1,492.4 L239.1,492.4 L238.1,492.5 L237.1,492.5 L236.1,492.5 L235.1,492.6 L234.1,492.6 L233.0,492.7 L232.0,492.7 L231.0,492.7 L230.0,492.8 L229.0,492.8 L228.0,492.9 L227.0,492.9 L226.0,493.0 L225.0,493.0 L224.0,493.1 L223.0,493.2 L222.0,493.2 L221.0,493.3 L220.0,493.4 L219.0,493.4 L218.0,493.5 L217.0,493.6 L216.0,493.7 L215.0,493.8 L214.1,493.8 L213.1,493.9 L212.1,494.0 L211.1,494.1 L210.1,494.2 L209.1,494.3 L208.1,494.4 L207.1,494.5 L206.1,494.6 L205.1,494.7 L204.1,494.9 L203.1,495.0 L202.1,495.1 L201.1,495.2 L200.1,495.4 L199.1,495.5 L198.1,495.7 L197.1,495.8 L196.1,496.0 L195.1,496.2 L194.1,496.3 L193.1,496.5 L192.1,496.7 L191.2,496.9 L190.2,497.1 L189.2,497.3 L188.2,497.5 L187.2,497.7 L186.2,498.0 L185.2,498.2 L184.3,498.4 L183.3,498.6 L182.3,498.8 L181.3,499.0 L180.3,499.2 L179.3,499.4 L178.3,499.6 L177.4,499.7 L176.4,499.8 L175.4,500.0 L174.4,500.0 L173.4,500.1 L172.4,500.1 L171.4,500.1 L170.4,500.1 L169.4,500.1 L168.4,500.1 L167.4,500.0 L166.4,500.0 L165.4,499.9 L164.4,499.8 L163.4,499.8 L162.4,499.7 L161.4,499.6 L160.4,499.5 L159.4,499.4 L158.4,499.2 L157.4,499.1 L156.4,499.0 L155.4,498.9 L154.4,498.7 L153.4,498.6 L152.4,498.4 L151.4,498.3 L150.4,498.1 L149.5,498.0 L148.5,497.8 L147.5,497.7 L146.5,497.5 L145.5,497.4 L144.5,497.2 L143.5,497.1 L142.5,496.9 L141.5,496.8 L140.5,496.6 L139.5,496.5 L138.5,496.3 L137.5,496.2 L136.5,496.0 L135.5,495.9 L134.5,495.8 L133.5,495.6 L132.5,495.5 L131.5,495.4 L130.5,495.3 L129.5,495.1 L128.5,495.0 L127.5,494.9 L126.5,494.8 L125.5,494.8 L124.5,494.7 L123.5,494.6 L122.5,494.5 L121.5,494.5 L120.5,494.4 L119.5,494.4 L118.5,494.3 L117.5,494.3 L116.5,494.3 L115.5,494.2 L114.5,494.2 L113.4,494.2 L112.4,494.2 L111.4,494.2 L110.4,494.2 L109.4,494.2 L108.4,494.3 L107.4,494.3 L106.4,494.3 L105.4,494.4 L104.4,494.4 L103.4,494.5 L102.4,494.5 L101.4,494.6 L100.4,494.7 L99.4,494.8 L98.4,494.9 L97.4,495.0 L96.4,495.1 L95.4,495.2 L94.4,495.4 L93.4,495.5 L92.4,495.6 L91.5,495.8 L90.5,496.0 L89.5,496.1 L88.5,496.3 L87.5,496.5 L86.5,496.7 L85.5,496.9 L84.5,497.1 L83.5,497.3 L82.6,497.5 L81.6,497.7 L80.6,497.9 L79.6,498.1 L78.6,498.4 L77.7,498.6 L76.7,498.8 L75.7,499.0 L74.7,499.3 L73.7,499.5 L72.7,499.7 L71.8,499.9 L70.8,500.1 L69.8,500.3 L68.8,500.5 L67.8,500.7 L66.8,500.9 L65.8,501.1 L64.9,501.3 L63.9,501.5 L62.9,501.6 L61.9,501.8 L60.9,502.0 L59.9,502.1 L58.9,502.2 L57.9,502.3 L56.9,502.4 L55.9,502.5 L54.9,502.6 L53.9,502.7 L52.9,502.7" fill="none" stroke="#4daf4a" stroke-width="1.40" stroke-linejoin="round" stroke-linecap="round" />
<path d="M52.9,519.0 L53.0,518.0 L53.1,517.1 L53.2,516.1 L53.3,515.1 L53.3,514.1 L53.4,513.1 L53.4,512.1 L53.5,511.1 L53.5,510.1 L53.6,509.1 L53.6,508.1 L53.6,507.1 L53.7,506.0 L53.7,505.0 L53.8,504.0 L53.9,503.0 L53.9,502.0 L54.0,501.0 L54.2,500.0 L54.3,499.0 L54.4,498.0 L54.6,497.0 L54.8,496.0 L55.0,495.0 L55.2,494.0 L55.5,493.0 L55.8,492.1 L56.1,491.1 L56.5,490.1 L56.9,489.2 L57.3,488.3 L57.8,487.4 L58.3,486.5 L58.8,485.6 L59.3,484.7 L59.9,483.9 L60.5,483.1 L61.2,482.4 L61.9,481.6 L62.6,480.9 L63.3,480.3 L64.0,479.7 L64.8,479.1 L65.6,478.6 L66.5,478.1 L67.3,477.7 L68.2,477.3 L69.1,477.0 L70.0,476.7 L71.0,476.5 L71.9,476.3 L72.9,476.2 L73.9,476.1 L74.9,476.0 L75.9,476.0 L76.9,476.0 L78.0,476.0 L79.0,476.1 L80.0,476.2 L81.0,476.3 L82.1,476.5 L83.1,476.7 L84.1,476.9 L85.1,477.1 L86.1,477.3 L87.1,477.6 L88.1,477.8 L89.0,478.1 L90.0,478.4 L91.0,478.7 L91.9,479.0 L92.9,479.3 L93.8,479.6 L94.8,480.0 L95.7,480.3 L96.6,480.7 L97.6,481.0 L98.5,481.4 L99.4,481.7 L100.4,482.1 L101.3,482.5 L102.2,482.9 L103.1,483.2 L104.1,483.6 L105.0,484.0 L105.9,484.3 L106.9,484.7 L107.8,485.1 L108.7,485.4 L109.7,485.8 L110.6,486.1 L111.6,486.4 L112.5,486.7 L113.5,487.0 L114.4,487.3 L115.4,487.6 L116.4,487.8 L117.3,488.0 L118.3,488.2 L119.3,488.4 L120.3,488.5 L121.3,488.7 L122.2,488.8 L123.2,488.9 L124.2,488.9 L125.2,489.0 L126.2,489.1 L127.2,489.1 L128.2,489.1 L129.2,489.1 L130.2,489.1 L131.2,489.1 L132.2,489.1 L133.3,489.1 L134.3,489.1 L135.3,489.1 L136.3,489.1 L137.3,489.1 L138.3,489.1 L139.3,489.1 L140.3,489.1 L141.3,489.1 L142.4,489.1 L143.4,489.2 L144.4,489.2 L145.4,489.2 L146.4,489.2 L147.4,489.2 L148.4,489.2 L149.4,489.3 L150.4,489.3 L151.4,489.3 L152.4,489.2 L153.4,489.2 L154.4,489.2 L155.4,489.2 L156.4,489.1 L157.4,489.1 L158.4,489.1 L159.4,489.0 L160.4,488.9 L161.4,488.9 L162.4,488.8 L163.4,488.7 L164.4,488.7 L165.4,488.6 L166.4,488.5 L167.4,488.4 L168.4,488.3 L169.4,488.2 L170.4,488.1 L171.4,488.0 L172.4,487.9 L173.4,487.8 L174.4,487.7 L175.4,487.5 L176.4,487.4 L177.4,487.3 L178.4,487.2 L179.4,487.0 L180.3,486.9 L181.3,486.8 L182.3,486.6 L183.3,486.5 L184.3,486.4 L185.3,486.2 L186.3,486.1 L187.3,485.9 L188.3,485.8 L189.3,485.7 L190.3,485.5 L191.3,485.4 L192.2,485.2 L193.2,485.1 L194.2,484.9 L195.2,484.8 L196.2,484.6 L197.2,484.5 L198.2,484.3 L199.2,484.2 L200.2,484.1 L201.2,483.9 L202.2,483.8 L203.2,483.6 L204.2,483.5 L205.2,483.4 L206.2,483.2 L207.1,483.1 L208.1,483.0 L209.1,482.8 L210.1,482.7 L211.1,482.6 L212.1,482.5 L213.1,482.4 L214.1,482.2 L215.1,482.1 L216.1,482.0 L217.1,481.9 L218.1,481.8 L219.1,481.7 L220.1,481.6 L221.1,481.5 L222.1,481.3 L223.1,481.2 L224.1,481.1 L225.1,481.0 L226.1,480.9 L227.1,480.8 L228.1,480.7 L229.1,480.6 L230.1,480.5 L231.1,480.4 L232.1,480.2 L233.1,480.1 L234.1,480.0 L235.1,479.9 L236.1,479.8 L237.1,479.6 L238.1,479.5 L239.1,479.4 L240.1,479.3 L241.1,479.1 L242.1,479.0 L243.1,478.8 L244.1,478.7 L245.1,478.5 L246.1,478.4 L247.1,478.2 L248.1,478.1 L249.0,477.9 L250.0,477.7 L251.0,477.6 L252.0,477.4 L253.0,477.2 L254.0,477.0 L255.0,476.8 L255.9,476.6 L256.9,476.4 L257.9,476.2 L258.9,475.9 L259.8,475.7 L260.8,475.5 L261.8,475.2 L262.8,475.0 L263.7,474.7 L264.7,474.5 L265.7,474.2 L266.6,473.9 L267.6,473.6 L268.6,473.3 L269.5,473.0 L270.5,472.7 L271.4,472.4 L272.4,472.0 L273.3,471.7 L274.2,471.3 L275.1,470.9 L276.0,470.5 L276.9,470.0 L277.7,469.5 L278.5,469.0 L279.3,468.5 L280.0,467.9 L280.7,467.2 L281.4,466.5 L282.0,465.8 L282.6,465.0 L283.2,464.2 L283.7,463.3 L284.1,462.5 L284.6,461.6 L285.0,460.6 L285.4,459.7 L285.8,458.7 L286.1,457.8 L286.4,456.8 L286.8,455.8 L287.1,454.8 L287.3,453.8 L287.6,452.8 L287.9,451.8 L288.2,450.8 L288.4,449.8 L288.7,448.9 L289.0,447.9 L289.2,446.9 L289.5,445.9 L289.8,445.0 L290.0,444.0 L290.3,443.0 L290.5,442.1 L290.8,441.1 L291.1,440.1 L291.3,439.2 L291.6,438.2 L291.8,437.2 L292.1,436.3 L292.4,435.3 L292.6,434.3 L292.9,433.3 L293.1,432.4 L293.4,431.4 L293.7,430.4 L293.9,429.5 L294.2,428.5 L294.5,427.5 L294.7,426.6 L295.0,425.6 L295.2,424.6 L295.5,423.7 L295.8,422.7 L296.0,421.7 L296.3,420.8 L296.6,419.8 L296.8,418.8 L297.1,417.9 L297.4,416.9 L297.6,415.9 L297.9,415.0 L298.2,414.0 L298.4,413.0 L298.7,412.1 L298.9,411.1 L299.2,410.1 L299.5,409.2 L299.7,408.2 L300.0,407.2 L300.3,406.3 L300.5,405.3 L300.8,404.3 L301.1,403.4 L301.3,402.4 L301.6,401.4 L301.9,400.5 L302.1,399.5 L302.4,398.5 L302.7,397.6 L302.9,396.6 L303.2,395.6 L303.4,394.7 L303.7,393.7 L304.0,392.7 L304.2,391.8 L304.5,390.8 L304.8,389.8 L305.0,388.9 L305.3,387.9 L305.6,386.9 L305.8,386.0 L306.1,385.0 L306.3,384.0 L306.6,383.0 L306.9,382.1 L307.1,381.1 L307.4,380.1 L307.6,379.2 L307.9,378.2 L308.2,377.2 L308.4,376.3 L308.7,375.3 L308.9,374.3 L309.2,373.4 L309.5,372.4 L309.7,371.4 L310.0,370.5 L310.2,369.5 L310.5,368.5 L310.8,367.6 L311.0,366.6 L311.3,365.6 L311.5,364.6 L311.8,363.7 L312.0,362.7 L312.3,361.7 L312.5,360.8 L312.8,359.8 L313.1,358.8 L313.3,357.9 L313.6,356.9 L313.8,355.9 L314.1,354.9 L314.3,354.0 L314.6,353.0 L314.8,352.0 L315.1,351.1 L315.3,350.1 L315.6,349.1 L315.8,348.1 L316.1,347.2 L316.3,346.2 L316.6,345.2 L316.8,344.3 L317.0,343.3 L317.3,342.3 L317.5,341.3 L317.8,340.4 L318.0,339.4 L318.3,338.4 L318.5,337.4 L318.8,336.5 L319.0,335.5 L319.2,334.5 L319.5,333.5 L319.7,332.6 L320.0,331.6 L320.2,330.6 L320.4,329.7 L320.7,328.7 L320.9,327.7 L320.8,328.7 L320.6,329.7 L320.5,330.7 L320.3,331.7 L320.2,332.7 L320.0,333.6 L319.9,334.6 L319.7,335.6 L319.6,336.6 L319.4,337.6 L319.2,338.6 L319.1,339.6 L318.9,340.6 L318.8,341.6 L318.6,342.5 L318.4,343.5 L318.3,344.5 L318.1,345.5 L317.9,346.5 L317.8,347.5 L317.6,348.5 L317.4,349.5 L317.2,350.5 L317.1,351.4 L316.9,352.4 L316.7,353.4 L316.5,354.4 L316.4,355.4 L316.2,356.4 L316.0,357.4 L315.8,358.4 L315.6,359.3 L315.4,360.3 L315.3,361.3 L315.1,362.3 L314.9,363.3 L314.7,364.3 L314.5,365.3 L314.3,366.3 L314.1,367.2 L313.9,368.2 L313.7,369.2 L313.6,370.2 L313.4,371.2 L313.2,372.2 L313.0,373.2 L312.8,374.2 L312.6,375.1 L312.4,376.1 L312.2,377.1 L312.0,378.1 L311.8,379.1 L311.6,380.1 L311.4,381.0 L311.2,382.0 L311.0,383.0 L310.8,384.0 L310.6,385.0 L310.4,386.0 L310.2,387.0 L310.0,387.9 L309.8,388.9 L309.6,389.9 L309.4,390.9 L309.2,391.9 L309.0,392.9 L308.8,393.8 L308.6,394.8 L308.4,395.8 L308.2,396.8 L308.0,397.8 L307.8,398.7 L307.6,399.7 L307.4,400.7 L307.1,401.7 L306.9,402.7 L306.7,403.7 L306.5,404.6 L306.3,405.6 L306.1,406.6 L305.9,407.6 L305.7,408.6 L305.5,409.5 L305.3,410.5 L305.1,411.5 L304.9,412.5 L304.7,413.5 L304.5,414.4 L304.3,415.4 L304.1,416.4 L303.9,417.4 L303.7,418.3 L303.5,419.3 L303.3,420.3 L303.1,421.3 L302.9,422.3 L302.6,423.2 L302.4,424.2 L302.2,425.2 L302.0,426.2 L301.8,427.2 L301.6,428.1 L301.4,429.1 L301.1,430.1 L300.9,431.1 L300.7,432.0 L300.5,433.0 L300.2,434.0 L300.0,435.0 L299.8,436.0 L299.6,436.9 L299.3,437.9 L299.1,438.9 L298.9,439.9 L298.6,440.8 L298.4,441.8 L298.1,442.8 L297.9,443.8 L297.6,444.8 L297.4,445.7 L297.1,446.7 L296.9,447.7 L296.6,448.7 L296.4,449.6 L296.1,450.6 L295.8,451.6 L295.6,452.6 L295.3,453.6 L295.0,454.5 L294.7,455.5 L294.4,456.5 L294.1,457.4 L293.8,458.4 L293.5,459.4 L293.2,460.3 L292.9,461.3 L292.5,462.2 L292.2,463.2 L291.8,464.1 L291.4,465.0 L291.0,465.9 L290.6,466.8 L290.2,467.7 L289.7,468.6 L289.3,469.5 L288.8,470.4 L288.3,471.3 L287.8,472.1 L287.3,473.0 L286.7,473.8 L286.2,474.6 L285.6,475.4 L285.0,476.2 L284.3,477.0 L283.7,477.8 L283.0,478.5 L282.3,479.3 L281.6,480.0 L280.9,480.7 L280.2,481.4 L279.4,482.0 L278.7,482.7 L277.9,483.3 L277.1,483.9 L276.3,484.5 L275.5,485.1 L274.6,485.6 L273.8,486.2 L272.9,486.7 L272.0,487.1 L271.2,487.6 L270.3,488.0 L269.4,488.4 L268.5,488.8 L267.5,489.2 L266.6,489.5 L265.7,489.8 L264.7,490.1 L263.8,490.4 L262.8,490.6 L261.9,490.8 L260.9,491.1 L259.9,491.3 L258.9,491.4 L257.9,491.6 L256.9,491.8 L255.9,491.9 L255.0,492.0 L253.9,492.2 L252.9,492.3 L251.9,492.4 L250.9,492.5 L249.9,492.6 L248.9,492.7 L247.9,492.7 L246.9,492.8 L245.8,492.9 L244.8,493.0 L243.8,493.1 L242.8,493.1 L241.8,493.2 L240.8,493.3 L239.8,493.4 L238.7,493.5 L237.7,493.6 L236.7,493.6 L235.7,493.7 L234.7,493.8 L233.7,493.9 L232.7,494.0 L231.7,494.1 L230.7,494.2 L229.7,494.3 L228.7,494.4 L227.7,494.6 L226.7,494.7 L225.7,494.8 L224.7,494.9 L223.7,495.1 L222.7,495.2 L221.7,495.4 L220.7,495.5 L219.7,495.7 L218.7,495.9 L217.7,496.0 L216.8,496.2 L215.8,496.4 L214.8,496.6 L213.8,496.8 L212.9,497.0 L211.9,497.3 L210.9,497.5 L210.0,497.7 L209.0,498.0 L208.0,498.3 L207.1,498.5 L206.1,498.8 L205.2,499.1 L204.3,499.4 L203.3,499.8 L202.4,500.1 L201.4,500.4 L200.5,500.8 L199.6,501.2 L198.7,501.5 L197.7,501.9 L196.8,502.3 L195.9,502.8 L195.0,503.2 L194.1,503.6 L193.2,504.1 L192.3,504.6 L191.4,505.1 L190.5,505.6 L189.6,506.1 L188.7,506.6 L187.9,507.1 L187.0,507.6 L186.1,508.1 L185.2,508.6 L184.3,509.1 L183.4,509.6 L182.5,510.1 L181.6,510.6 L180.7,511.0 L179.8,511.5 L178.8,511.8 L177.9,512.2 L177.0,512.5 L176.1,512.8 L175.1,513.0 L174.2,513.2 L173.3,513.3 L172.3,513.4 L171.4,513.4 L170.4,513.4 L169.5,513.3 L168.5,513.2 L167.5,513.0 L166.6,512.8 L165.6,512.6 L164.7,512.4 L163.7,512.1 L162.7,511.8 L161.8,511.5 L160.8,511.2 L159.9,510.8 L158.9,510.5 L158.0,510.1 L157.0,509.8 L156.1,509.4 L155.1,509.1 L154.2,508.7 L153.2,508.3 L152.3,507.9 L151.3,507.5 L150.4,507.1 L149.4,506.7 L148.5,506.3 L147.6,506.0 L146.6,505.6 L145.7,505.2 L144.7,504.8 L143.8,504.4 L142.9,504.0 L141.9,503.6 L141.0,503.3 L140.0,502.9 L139.1,502.5 L138.2,502.2 L137.2,501.8 L136.3,501.5 L135.3,501.1 L134.4,500.8 L133.4,500.5 L132.5,500.2 L131.5,499.9 L130.5,499.6 L129.6,499.4 L128.6,499.1 L127.7,498.9 L126.7,498.7 L125.7,498.5 L124.7,498.3 L123.8,498.1 L122.8,498.0 L121.8,497.9 L120.8,497.8 L119.8,497.7 L118.8,497.6 L117.8,497.5 L116.8,497.5 L115.8,497.4 L114.8,497.4 L113.8,497.4 L112.8,497.5 L111.8,497.5 L110.8,497.6 L109.8,497.6 L108.8,497.7 L107.8,497.8 L106.8,497.9 L105.9,498.1 L104.9,498.2 L103.9,498.4 L102.9,498.6 L101.9,498.8 L100.9,499.0 L99.9,499.2 L99.0,499.4 L98.0,499.7 L97.0,500.0 L96.0,500.2 L95.1,500.5 L94.1,500.9 L93.2,501.2 L92.2,501.5 L91.3,501.9 L90.4,502.2 L89.4,502.6 L88.5,503.0 L87.6,503.4 L86.7,503.9 L85.8,504.3 L84.9,504.7 L84.0,505.2 L83.1,505.6 L82.2,506.1 L81.3,506.6 L80.4,507.0 L79.5,507.5 L78.6,508.0 L77.8,508.5 L76.9,509.0 L76.0,509.5 L75.1,509.9 L74.2,510.4 L73.4,510.9 L72.5,511.4 L71.6,511.9 L70.7,512.3 L69.8,512.8 L68.9,513.3 L68.0,513.7 L67.1,514.1 L66.2,514.6 L65.3,515.0 L64.4,515.4 L63.5,515.8 L62.6,516.2 L61.6,516.5 L60.7,516.9 L59.7,517.2 L58.8,517.5 L57.8,517.8 L56.9,518.1 L55.9,518.4 L54.9,518.6 L53.9,518.8 L52.9,519.0" fill="none" stroke="#984ea3" stroke-width="1.40" stroke-linejoin="round" stroke-linecap="round" />
<path d="M53.0,492.9 L54.0,492.9 L55.0,492.8 L56.0,492.8 L57.0,492.8 L58.0,492.8 L59.0,492.8 L60.0,492.7 L61.0,492.7 L62.0,492.7 L63.0,492.7 L64.0,492.6 L65.0,492.6 L66.0,492.6 L67.0,492.6 L68.0,492.5 L69.0,492.5 L70.0,492.5 L71.0,492.5 L72.0,492.5 L73.0,492.5 L74.0,492.5 L75.0,492.5 L76.0,492.5 L77.0,492.5 L78.0,492.4 L79.0,492.4 L80.0,492.4 L81.0,492.4 L82.0,492.4 L83.0,492.4 L84.0,492.4 L85.0,492.4 L86.0,492.4 L87.0,492.4 L88.0,492.4 L89.0,492.4 L90.0,492.4 L91.0,492.4 L92.0,492.4 L93.0,492.3 L94.0,492.3 L95.0,492.3 L96.0,492.3 L97.0,492.3 L98.0,492.3 L99.0,492.3 L100.0,492.3 L101.0,492.3 L102.0,492.3 L103.0,492.3 L104.0,492.3 L105.0,492.3 L106.0,492.3 L107.0,492.3 L108.0,492.3 L109.0,492.3 L110.0,492.3 L111.0,492.3 L112.0,492.3 L113.0,492.3 L114.0,492.3 L115.0,492.3 L116.0,492.3 L117.0,492.3 L118.0,492.3 L119.0,492.3 L120.0,492.3 L121.0,492.3 L122.0,492.3 L123.0,492.3 L124.0,492.3 L125.0,492.3 L126.0,492.3 L127.0,492.3 L128.0,492.3 L129.0,492.3 L130.0,492.3 L131.0,492.3 L132.0,492.3 L133.0,492.3 L134.0,492.3" fill="none" stroke="#e41a1c" stroke-width="2.40" stroke-linejoin="round" stroke-linecap="round" />
<line x1="59.4" y1="344.40" x2="82" y2="344.40" stroke="#984ea3" stroke-width="1.5"/>
<text x="87.40" y="347.90" font-size="9.70" text-anchor="start" font-weight="bold" fill="#000" >G10-1.00 µm Pt</text>
<line x1="59.4" y1="355.60" x2="82" y2="355.60" stroke="#4daf4a" stroke-width="1.5"/>
<text x="87.40" y="359.10" font-size="9.70" text-anchor="start" font-weight="bold" fill="#000" >G10-0.45 µm Pt</text>
<line x1="59.4" y1="366.80" x2="82" y2="366.80" stroke="#377eb8" stroke-width="1.5"/>
<text x="87.40" y="370.30" font-size="9.70" text-anchor="start" font-weight="bold" fill="#000" >G10-0.20 µm Pt</text>
<line x1="59.4" y1="378.00" x2="82" y2="378.00" stroke="#e41a1c" stroke-width="1.5"/>
<text x="87.40" y="381.50" font-size="9.70" text-anchor="start" font-weight="bold" fill="#000" >Bare G10</text>
<text x="227.00" y="353.80" font-size="8.00" text-anchor="start" font-weight="bold" fill="#000" >Oxide formation</text>
<text x="102.60" y="459.20" font-size="8.00" text-anchor="start" font-weight="bold" fill="#000" >H desorption</text>
<text x="99.00" y="518.20" font-size="8.00" text-anchor="start" font-weight="bold" fill="#000" >H adsorption</text>
<text x="216.00" y="515.80" font-size="8.00" text-anchor="start" font-weight="bold" fill="#000" >Oxide reduction</text>
<line x1="309.10" y1="333.20" x2="292.29" y2="344.24" stroke="#111" stroke-width="1.1"/>
<path d="M286.10,348.30 L291.08,342.40 L293.49,346.08 Z" fill="#111"/>
<line x1="81.10" y1="470.40" x2="95.13" y2="461.37" stroke="#111" stroke-width="1.1"/>
<path d="M101.60,457.20 L96.37,463.30 L93.88,459.43 Z" fill="#111"/>
<line x1="74.10" y1="515.80" x2="90.20" y2="515.80" stroke="#111" stroke-width="1.1"/>
<path d="M97.80,515.80 L90.20,518.10 L90.20,513.50 Z" fill="#111"/>
<line x1="189.70" y1="513.50" x2="205.30" y2="513.50" stroke="#111" stroke-width="1.1"/>
<path d="M213.30,513.50 L205.30,515.60 L205.30,511.40 Z" fill="#111"/>
<rect x="388.80" y="319.40" width="288.20" height="207.20" fill="none" stroke="#111" stroke-width="1.30"/>
<line x1="385.30" y1="501.00" x2="388.80" y2="501.00" stroke="#333" stroke-width="1"/>
<text x="381.20" y="504.40" font-size="10.00" text-anchor="end" font-weight="bold" fill="#000" >-4</text>
<line x1="385.30" y1="460.70" x2="388.80" y2="460.70" stroke="#333" stroke-width="1"/>
<text x="381.20" y="464.10" font-size="10.00" text-anchor="end" font-weight="bold" fill="#000" >-2</text>
<line x1="385.30" y1="420.40" x2="388.80" y2="420.40" stroke="#333" stroke-width="1"/>
<text x="381.20" y="423.80" font-size="10.00" text-anchor="end" font-weight="bold" fill="#000" >0</text>
<line x1="385.30" y1="380.10" x2="388.80" y2="380.10" stroke="#333" stroke-width="1"/>
<text x="381.20" y="383.50" font-size="10.00" text-anchor="end" font-weight="bold" fill="#000" >2</text>
<line x1="385.30" y1="339.80" x2="388.80" y2="339.80" stroke="#333" stroke-width="1"/>
<text x="381.20" y="343.20" font-size="10.00" text-anchor="end" font-weight="bold" fill="#000" >4</text>
<line x1="412.50" y1="526.60" x2="412.50" y2="529.60" stroke="#333" stroke-width="1"/>
<text x="412.50" y="544.00" font-size="10.00" text-anchor="middle" font-weight="bold" fill="#000" >0,40</text>
<line x1="452.50" y1="526.60" x2="452.50" y2="529.60" stroke="#333" stroke-width="1"/>
<text x="452.50" y="544.00" font-size="10.00" text-anchor="middle" font-weight="bold" fill="#000" >0,45</text>
<line x1="492.50" y1="526.60" x2="492.50" y2="529.60" stroke="#333" stroke-width="1"/>
<text x="492.50" y="544.00" font-size="10.00" text-anchor="middle" font-weight="bold" fill="#000" >0,50</text>
<line x1="532.50" y1="526.60" x2="532.50" y2="529.60" stroke="#333" stroke-width="1"/>
<text x="532.50" y="544.00" font-size="10.00" text-anchor="middle" font-weight="bold" fill="#000" >0,55</text>
<line x1="572.50" y1="526.60" x2="572.50" y2="529.60" stroke="#333" stroke-width="1"/>
<text x="572.50" y="544.00" font-size="10.00" text-anchor="middle" font-weight="bold" fill="#000" >0,60</text>
<line x1="612.50" y1="526.60" x2="612.50" y2="529.60" stroke="#333" stroke-width="1"/>
<text x="612.50" y="544.00" font-size="10.00" text-anchor="middle" font-weight="bold" fill="#000" >0,65</text>
<line x1="652.50" y1="526.60" x2="652.50" y2="529.60" stroke="#333" stroke-width="1"/>
<text x="652.50" y="544.00" font-size="10.00" text-anchor="middle" font-weight="bold" fill="#000" >0,70</text>
<text transform="translate(363.30,423.10) rotate(-90)" x="0" y="0" font-size="9.88" text-anchor="middle" font-weight="bold">Current Density (mA.cm<tspan font-size="5.93" dy="-4">-2</tspan><tspan dy="4">)</tspan></text>
<text x="533.00" y="562.00" font-size="9.80" text-anchor="middle" font-weight="bold" fill="#000" >Potential (V vs. Ag/AgCl)</text>
<text x="519.00" y="600.70" font-size="16.60" text-anchor="middle" font-weight="normal" fill="#000" stroke="#000" stroke-width="0.5">d)</text>
<path d="M403.5,425.0 L404.5,424.9 L405.5,424.7 L406.5,424.6 L407.5,424.5 L408.5,424.4 L409.5,424.3 L410.5,424.1 L411.5,424.0 L412.5,423.9 L413.5,423.8 L414.5,423.7 L415.5,423.6 L416.5,423.5 L417.5,423.4 L418.5,423.3 L419.5,423.2 L420.4,423.1 L421.4,423.0 L422.4,422.9 L423.4,422.8 L424.4,422.8 L425.4,422.7 L426.4,422.6 L427.4,422.5 L428.4,422.4 L429.4,422.3 L430.4,422.3 L431.4,422.2 L432.4,422.1 L433.4,422.0 L434.4,422.0 L435.4,421.9 L436.4,421.8 L437.4,421.8 L438.4,421.7 L439.5,421.6 L440.5,421.6 L441.5,421.5 L442.5,421.5 L443.5,421.4 L444.5,421.3 L445.5,421.3 L446.5,421.2 L447.5,421.2 L448.5,421.1 L449.5,421.1 L450.5,421.0 L451.5,421.0 L452.5,420.9 L453.5,420.9 L454.5,420.9 L455.5,420.8 L456.5,420.8 L457.5,420.7 L458.5,420.7 L459.5,420.7 L460.5,420.6 L461.5,420.6 L462.5,420.5 L463.5,420.5 L464.5,420.5 L465.5,420.4 L466.5,420.4 L467.5,420.4 L468.5,420.3 L469.5,420.3 L470.5,420.3 L471.6,420.3 L472.6,420.2 L473.6,420.2 L474.6,420.2 L475.6,420.2 L476.6,420.1 L477.6,420.1 L478.6,420.1 L479.6,420.1 L480.6,420.0 L481.6,420.0 L482.6,420.0 L483.6,420.0 L484.6,419.9 L485.6,419.9 L486.6,419.9 L487.6,419.9 L488.6,419.9 L489.6,419.8 L490.6,419.8 L491.7,419.8 L492.7,419.8 L493.7,419.8 L494.7,419.8 L495.7,419.7 L496.7,419.7 L497.7,419.7 L498.7,419.7 L499.7,419.7 L500.7,419.7 L501.7,419.7 L502.7,419.6 L503.7,419.6 L504.7,419.6 L505.7,419.6 L506.7,419.6 L507.7,419.6 L508.7,419.6 L509.8,419.5 L510.8,419.5 L511.8,419.5 L512.8,419.5 L513.8,419.5 L514.8,419.5 L515.8,419.5 L516.8,419.5 L517.8,419.5 L518.8,419.4 L519.8,419.4 L520.8,419.4 L521.8,419.4 L522.8,419.4 L523.8,419.4 L524.8,419.4 L525.8,419.4 L526.9,419.4 L527.9,419.4 L528.9,419.4 L529.9,419.4 L530.9,419.3 L531.9,419.3 L532.9,419.3 L533.9,419.3 L534.9,419.3 L535.9,419.3 L536.9,419.3 L537.9,419.3 L538.9,419.3 L539.9,419.3 L540.9,419.3 L541.9,419.3 L543.0,419.3 L544.0,419.3 L545.0,419.2 L546.0,419.2 L547.0,419.2 L548.0,419.2 L549.0,419.2 L550.0,419.2 L551.0,419.2 L552.0,419.2 L553.0,419.2 L554.0,419.2 L555.0,419.2 L556.0,419.2 L557.0,419.2 L558.0,419.2 L559.1,419.2 L560.1,419.2 L561.1,419.1 L562.1,419.1 L563.1,419.1 L564.1,419.1 L565.1,419.1 L566.1,419.1 L567.1,419.1 L568.1,419.1 L569.1,419.1 L570.1,419.1 L571.1,419.1 L572.1,419.1 L573.1,419.1 L574.1,419.1 L575.1,419.1 L576.2,419.0 L577.2,419.0 L578.2,419.0 L579.2,419.0 L580.2,419.0 L581.2,419.0 L582.2,419.0 L583.2,419.0 L584.2,419.0 L585.2,419.0 L586.2,419.0 L587.2,419.0 L588.2,418.9 L589.2,418.9 L590.2,418.9 L591.2,418.9 L592.3,418.9 L593.3,418.9 L594.3,418.9 L595.3,418.9 L596.3,418.9 L597.3,418.9 L598.3,418.8 L599.3,418.8 L600.3,418.8 L601.3,418.8 L602.3,418.8 L603.3,418.8 L604.3,418.8 L605.3,418.8 L606.3,418.7 L607.3,418.7 L608.3,418.7 L609.4,418.7 L610.4,418.7 L611.4,418.7 L612.4,418.6 L613.4,418.6 L614.4,418.6 L615.4,418.6 L616.4,418.6 L617.4,418.6 L618.4,418.5 L619.4,418.5 L620.4,418.5 L621.4,418.5 L622.4,418.5 L623.4,418.5 L624.4,418.4 L625.4,418.4 L626.4,418.4 L627.4,418.4 L628.5,418.3 L629.5,418.3 L630.5,418.3 L631.5,418.3 L632.5,418.3 L633.5,418.2 L634.5,418.2 L635.5,418.2 L636.5,418.2 L637.5,418.1 L638.5,418.1 L639.5,418.1 L640.5,418.0 L641.5,418.0 L642.5,418.0 L643.5,418.0 L644.5,417.9 L645.5,417.9 L646.5,417.9 L647.5,417.8 L648.5,417.8 L649.5,417.8 L650.6,417.7 L651.6,417.7 L652.6,417.7 L653.6,417.6 L654.6,417.6 L655.6,417.6 L656.6,417.5 L657.6,417.5 L658.6,417.5 L659.6,417.4 L660.6,417.4 L661.6,417.3 L662.6,417.3 L661.6,417.4 L660.6,417.5 L659.6,417.5 L658.6,417.6 L657.6,417.7 L656.6,417.7 L655.6,417.8 L654.6,417.9 L653.6,417.9 L652.6,418.0 L651.6,418.1 L650.6,418.1 L649.6,418.2 L648.6,418.3 L647.6,418.3 L646.6,418.4 L645.6,418.5 L644.6,418.5 L643.6,418.6 L642.5,418.6 L641.5,418.7 L640.5,418.7 L639.5,418.8 L638.5,418.9 L637.5,418.9 L636.5,419.0 L635.5,419.0 L634.5,419.1 L633.5,419.1 L632.5,419.2 L631.5,419.2 L630.5,419.3 L629.5,419.3 L628.5,419.4 L627.5,419.4 L626.5,419.5 L625.5,419.5 L624.5,419.5 L623.5,419.6 L622.5,419.6 L621.5,419.7 L620.5,419.7 L619.5,419.7 L618.5,419.8 L617.5,419.8 L616.5,419.9 L615.5,419.9 L614.4,419.9 L613.4,420.0 L612.4,420.0 L611.4,420.0 L610.4,420.1 L609.4,420.1 L608.4,420.1 L607.4,420.2 L606.4,420.2 L605.4,420.2 L604.4,420.3 L603.4,420.3 L602.4,420.3 L601.4,420.4 L600.4,420.4 L599.4,420.4 L598.4,420.4 L597.4,420.5 L596.4,420.5 L595.4,420.5 L594.4,420.6 L593.4,420.6 L592.4,420.6 L591.4,420.6 L590.3,420.6 L589.3,420.7 L588.3,420.7 L587.3,420.7 L586.3,420.7 L585.3,420.8 L584.3,420.8 L583.3,420.8 L582.3,420.8 L581.3,420.8 L580.3,420.9 L579.3,420.9 L578.3,420.9 L577.3,420.9 L576.3,420.9 L575.3,420.9 L574.3,421.0 L573.3,421.0 L572.3,421.0 L571.3,421.0 L570.3,421.0 L569.2,421.0 L568.2,421.1 L567.2,421.1 L566.2,421.1 L565.2,421.1 L564.2,421.1 L563.2,421.1 L562.2,421.1 L561.2,421.2 L560.2,421.2 L559.2,421.2 L558.2,421.2 L557.2,421.2 L556.2,421.2 L555.2,421.2 L554.2,421.2 L553.2,421.3 L552.2,421.3 L551.2,421.3 L550.2,421.3 L549.1,421.3 L548.1,421.3 L547.1,421.3 L546.1,421.3 L545.1,421.3 L544.1,421.4 L543.1,421.4 L542.1,421.4 L541.1,421.4 L540.1,421.4 L539.1,421.4 L538.1,421.4 L537.1,421.4 L536.1,421.4 L535.1,421.4 L534.1,421.4 L533.1,421.5 L532.1,421.5 L531.1,421.5 L530.0,421.5 L529.0,421.5 L528.0,421.5 L527.0,421.5 L526.0,421.5 L525.0,421.5 L524.0,421.5 L523.0,421.5 L522.0,421.6 L521.0,421.6 L520.0,421.6 L519.0,421.6 L518.0,421.6 L517.0,421.6 L516.0,421.6 L515.0,421.6 L514.0,421.6 L513.0,421.6 L512.0,421.6 L511.0,421.7 L509.9,421.7 L508.9,421.7 L507.9,421.7 L506.9,421.7 L505.9,421.7 L504.9,421.7 L503.9,421.7 L502.9,421.7 L501.9,421.8 L500.9,421.8 L499.9,421.8 L498.9,421.8 L497.9,421.8 L496.9,421.8 L495.9,421.8 L494.9,421.8 L493.9,421.9 L492.9,421.9 L491.9,421.9 L490.8,421.9 L489.8,421.9 L488.8,421.9 L487.8,421.9 L486.8,422.0 L485.8,422.0 L484.8,422.0 L483.8,422.0 L482.8,422.0 L481.8,422.0 L480.8,422.0 L479.8,422.1 L478.8,422.1 L477.8,422.1 L476.8,422.1 L475.8,422.1 L474.8,422.2 L473.8,422.2 L472.8,422.2 L471.8,422.2 L470.8,422.2 L469.7,422.3 L468.7,422.3 L467.7,422.3 L466.7,422.3 L465.7,422.4 L464.7,422.4 L463.7,422.4 L462.7,422.4 L461.7,422.4 L460.7,422.5 L459.7,422.5 L458.7,422.5 L457.7,422.6 L456.7,422.6 L455.7,422.6 L454.7,422.6 L453.7,422.7 L452.7,422.7 L451.7,422.7 L450.7,422.8 L449.7,422.8 L448.7,422.8 L447.7,422.9 L446.6,422.9 L445.6,422.9 L444.6,423.0 L443.6,423.0 L442.6,423.0 L441.6,423.1 L440.6,423.1 L439.6,423.1 L438.6,423.2 L437.6,423.2 L436.6,423.3 L435.6,423.3 L434.6,423.3 L433.6,423.4 L432.6,423.4 L431.6,423.5 L430.6,423.5 L429.6,423.6 L428.6,423.6 L427.6,423.6 L426.6,423.7 L425.6,423.7 L424.6,423.8 L423.6,423.8 L422.6,423.9 L421.6,423.9 L420.6,424.0 L419.5,424.0 L418.5,424.1 L417.5,424.2 L416.5,424.2 L415.5,424.3 L414.5,424.3 L413.5,424.4 L412.5,424.4 L411.5,424.5 L410.5,424.6 L409.5,424.6 L408.5,424.7 L407.5,424.7 L406.5,424.8 L405.5,424.9 L404.5,424.9 L403.5,425.0" fill="none" stroke="#e41a1c" stroke-width="1.15" stroke-linejoin="round" stroke-linecap="round" />
<path d="M404.4,503.6 L404.9,502.7 L405.4,501.8 L406.0,501.0 L406.6,500.1 L407.1,499.3 L407.7,498.5 L408.3,497.7 L408.9,496.9 L409.6,496.2 L410.2,495.4 L410.9,494.7 L411.5,493.9 L412.2,493.2 L412.9,492.5 L413.6,491.9 L414.3,491.2 L415.1,490.5 L415.8,489.9 L416.6,489.3 L417.3,488.7 L418.1,488.0 L418.9,487.4 L419.7,486.9 L420.5,486.3 L421.3,485.7 L422.1,485.2 L422.9,484.6 L423.7,484.1 L424.6,483.6 L425.4,483.0 L426.3,482.5 L427.1,482.0 L428.0,481.6 L428.9,481.1 L429.8,480.6 L430.6,480.1 L431.5,479.7 L432.4,479.2 L433.3,478.8 L434.2,478.3 L435.1,477.9 L436.1,477.4 L437.0,477.0 L437.9,476.6 L438.8,476.2 L439.8,475.8 L440.7,475.4 L441.6,474.9 L442.6,474.5 L443.5,474.1 L444.4,473.7 L445.4,473.4 L446.3,473.0 L447.3,472.6 L448.2,472.2 L449.2,471.8 L450.1,471.4 L451.1,471.0 L452.0,470.6 L452.9,470.3 L453.9,469.9 L454.8,469.5 L455.8,469.1 L456.7,468.7 L457.6,468.3 L458.6,468.0 L459.5,467.6 L460.5,467.2 L461.4,466.8 L462.3,466.4 L463.3,466.0 L464.2,465.7 L465.1,465.3 L466.1,464.9 L467.0,464.5 L467.9,464.1 L468.9,463.8 L469.8,463.4 L470.7,463.0 L471.7,462.6 L472.6,462.3 L473.5,461.9 L474.5,461.5 L475.4,461.1 L476.3,460.8 L477.2,460.4 L478.2,460.0 L479.1,459.6 L480.0,459.3 L481.0,458.9 L481.9,458.5 L482.8,458.2 L483.8,457.8 L484.7,457.5 L485.6,457.1 L486.5,456.7 L487.5,456.4 L488.4,456.0 L489.3,455.7 L490.3,455.3 L491.2,454.9 L492.1,454.6 L493.1,454.2 L494.0,453.9 L494.9,453.5 L495.9,453.2 L496.8,452.8 L497.7,452.5 L498.7,452.1 L499.6,451.7 L500.5,451.4 L501.5,451.0 L502.4,450.7 L503.3,450.3 L504.2,449.9 L505.2,449.6 L506.1,449.2 L507.0,448.9 L508.0,448.5 L508.9,448.1 L509.8,447.8 L510.7,447.4 L511.7,447.0 L512.6,446.6 L513.5,446.3 L514.5,445.9 L515.4,445.5 L516.3,445.1 L517.2,444.7 L518.1,444.3 L519.1,444.0 L520.0,443.6 L520.9,443.2 L521.8,442.8 L522.7,442.4 L523.7,441.9 L524.6,441.5 L525.5,441.1 L526.4,440.7 L527.3,440.3 L528.2,439.9 L529.2,439.5 L530.1,439.0 L531.0,438.6 L531.9,438.2 L532.8,437.8 L533.7,437.3 L534.6,436.9 L535.5,436.5 L536.5,436.0 L537.4,435.6 L538.3,435.2 L539.2,434.7 L540.1,434.3 L541.0,433.9 L541.9,433.4 L542.8,433.0 L543.7,432.5 L544.7,432.1 L545.6,431.7 L546.5,431.2 L547.4,430.8 L548.3,430.4 L549.2,429.9 L550.1,429.5 L551.0,429.1 L552.0,428.6 L552.9,428.2 L553.8,427.8 L554.7,427.3 L555.6,426.9 L556.5,426.5 L557.4,426.1 L558.4,425.6 L559.3,425.2 L560.2,424.8 L561.1,424.4 L562.0,424.0 L562.9,423.6 L563.9,423.2 L564.8,422.8 L565.7,422.4 L566.6,421.9 L567.6,421.6 L568.5,421.2 L569.4,420.8 L570.3,420.4 L571.3,420.0 L572.2,419.6 L573.1,419.2 L574.1,418.9 L575.0,418.5 L575.9,418.1 L576.9,417.8 L577.8,417.4 L578.7,417.1 L579.7,416.7 L580.6,416.4 L581.5,416.0 L582.5,415.7 L583.4,415.4 L584.4,415.0 L585.3,414.7 L586.3,414.4 L587.2,414.1 L588.2,413.8 L589.1,413.5 L590.1,413.2 L591.0,412.9 L592.0,412.6 L593.0,412.4 L593.9,412.1 L594.9,411.8 L595.8,411.6 L596.8,411.3 L597.8,411.1 L598.8,410.8 L599.7,410.6 L600.7,410.4 L601.7,410.2 L602.7,410.0 L603.6,409.8 L604.6,409.6 L605.6,409.4 L606.6,409.2 L607.6,409.0 L608.6,408.8 L609.5,408.6 L610.5,408.5 L611.5,408.3 L612.5,408.1 L613.5,408.0 L614.5,407.8 L615.5,407.7 L616.5,407.6 L617.5,407.4 L618.5,407.3 L619.5,407.2 L620.5,407.1 L621.5,406.9 L622.5,406.8 L623.5,406.7 L624.5,406.6 L625.5,406.5 L626.5,406.4 L627.5,406.3 L628.5,406.2 L629.5,406.2 L630.5,406.1 L631.5,406.0 L632.5,405.9 L633.5,405.9 L634.6,405.8 L635.6,405.7 L636.6,405.7 L637.6,405.6 L638.6,405.6 L639.6,405.5 L640.6,405.4 L641.6,405.4 L642.6,405.4 L643.6,405.3 L644.6,405.3 L645.6,405.2 L646.6,405.2 L647.7,405.2 L648.7,405.1 L649.7,405.1 L650.7,405.1 L651.7,405.1 L652.7,405.0 L653.7,405.0 L654.7,405.0 L655.7,405.0 L656.7,405.0 L657.7,404.9 L658.7,404.9 L659.7,404.9 L660.7,404.9 L660.0,405.6 L659.2,406.3 L658.5,407.0 L657.7,407.7 L657.0,408.4 L656.2,409.0 L655.4,409.6 L654.6,410.3 L653.8,410.9 L653.0,411.4 L652.2,412.0 L651.4,412.6 L650.5,413.1 L649.7,413.6 L648.8,414.1 L648.0,414.7 L647.1,415.1 L646.2,415.6 L645.4,416.1 L644.5,416.6 L643.6,417.0 L642.7,417.5 L641.8,417.9 L640.9,418.3 L640.0,418.7 L639.1,419.2 L638.2,419.6 L637.3,420.0 L636.3,420.4 L635.4,420.7 L634.5,421.1 L633.6,421.5 L632.6,421.9 L631.7,422.2 L630.8,422.6 L629.8,423.0 L628.9,423.3 L627.9,423.7 L627.0,424.1 L626.1,424.4 L625.1,424.8 L624.2,425.1 L623.2,425.5 L622.3,425.8 L621.4,426.2 L620.4,426.6 L619.5,426.9 L618.5,427.3 L617.6,427.6 L616.7,428.0 L615.7,428.3 L614.8,428.7 L613.9,429.1 L612.9,429.4 L612.0,429.8 L611.1,430.2 L610.1,430.6 L609.2,431.0 L608.3,431.3 L607.4,431.7 L606.4,432.1 L605.5,432.5 L604.6,432.9 L603.7,433.3 L602.8,433.7 L601.8,434.1 L600.9,434.5 L600.0,434.9 L599.1,435.3 L598.2,435.7 L597.3,436.1 L596.3,436.5 L595.4,436.9 L594.5,437.3 L593.6,437.8 L592.7,438.2 L591.8,438.6 L590.9,439.0 L590.0,439.4 L589.1,439.9 L588.2,440.3 L587.3,440.7 L586.3,441.2 L585.4,441.6 L584.5,442.0 L583.6,442.5 L582.7,442.9 L581.8,443.3 L580.9,443.8 L580.0,444.2 L579.1,444.6 L578.2,445.1 L577.3,445.5 L576.4,446.0 L575.5,446.4 L574.6,446.8 L573.7,447.3 L572.8,447.7 L571.9,448.2 L571.0,448.6 L570.1,449.1 L569.2,449.5 L568.3,449.9 L567.4,450.4 L566.5,450.8 L565.6,451.3 L564.7,451.7 L563.7,452.1 L562.8,452.6 L561.9,453.0 L561.0,453.4 L560.1,453.9 L559.2,454.3 L558.3,454.7 L557.4,455.2 L556.5,455.6 L555.6,456.0 L554.7,456.4 L553.8,456.9 L552.9,457.3 L551.9,457.7 L551.0,458.1 L550.1,458.5 L549.2,459.0 L548.3,459.4 L547.4,459.8 L546.5,460.2 L545.5,460.6 L544.6,461.0 L543.7,461.4 L542.8,461.8 L541.9,462.2 L540.9,462.6 L540.0,463.0 L539.1,463.4 L538.2,463.7 L537.2,464.1 L536.3,464.5 L535.4,464.9 L534.4,465.2 L533.5,465.6 L532.6,466.0 L531.6,466.3 L530.7,466.7 L529.8,467.0 L528.8,467.4 L527.9,467.7 L526.9,468.1 L526.0,468.4 L525.1,468.8 L524.1,469.1 L523.2,469.4 L522.2,469.7 L521.3,470.1 L520.3,470.4 L519.4,470.7 L518.4,471.0 L517.4,471.3 L516.5,471.6 L515.5,471.9 L514.6,472.2 L513.6,472.5 L512.7,472.8 L511.7,473.1 L510.7,473.4 L509.8,473.7 L508.8,474.0 L507.8,474.2 L506.9,474.5 L505.9,474.8 L504.9,475.1 L504.0,475.4 L503.0,475.6 L502.0,475.9 L501.1,476.2 L500.1,476.4 L499.1,476.7 L498.2,477.0 L497.2,477.2 L496.2,477.5 L495.2,477.8 L494.3,478.0 L493.3,478.3 L492.3,478.5 L491.4,478.8 L490.4,479.1 L489.4,479.3 L488.4,479.6 L487.5,479.8 L486.5,480.1 L485.5,480.3 L484.5,480.6 L483.6,480.9 L482.6,481.1 L481.6,481.4 L480.6,481.6 L479.7,481.9 L478.7,482.1 L477.7,482.4 L476.7,482.7 L475.8,482.9 L474.8,483.2 L473.8,483.4 L472.8,483.7 L471.9,483.9 L470.9,484.2 L469.9,484.5 L469.0,484.7 L468.0,485.0 L467.0,485.3 L466.0,485.5 L465.1,485.8 L464.1,486.1 L463.1,486.3 L462.2,486.6 L461.2,486.9 L460.2,487.2 L459.3,487.4 L458.3,487.7 L457.3,488.0 L456.4,488.3 L455.4,488.6 L454.5,488.8 L453.5,489.1 L452.5,489.4 L451.6,489.7 L450.6,490.0 L449.6,490.3 L448.7,490.5 L447.7,490.8 L446.8,491.1 L445.8,491.4 L444.8,491.7 L443.9,492.0 L442.9,492.3 L442.0,492.6 L441.0,492.9 L440.0,493.2 L439.1,493.4 L438.1,493.7 L437.2,494.0 L436.2,494.3 L435.2,494.6 L434.3,494.9 L433.3,495.2 L432.4,495.5 L431.4,495.8 L430.4,496.1 L429.5,496.3 L428.5,496.6 L427.6,496.9 L426.6,497.2 L425.6,497.5 L424.7,497.8 L423.7,498.1 L422.8,498.4 L421.8,498.6 L420.8,498.9 L419.9,499.2 L418.9,499.5 L417.9,499.8 L417.0,500.1 L416.0,500.3 L415.0,500.6 L414.1,500.9 L413.1,501.2 L412.2,501.4 L411.2,501.7 L410.2,502.0 L409.2,502.3 L408.3,502.5 L407.3,502.8 L406.3,503.1 L405.4,503.3 L404.4,503.6" fill="none" stroke="#377eb8" stroke-width="1.15" stroke-linejoin="round" stroke-linecap="round" />
<path d="M403.5,514.5 L403.7,513.4 L404.0,512.4 L404.2,511.3 L404.5,510.3 L404.8,509.3 L405.1,508.3 L405.5,507.3 L405.9,506.4 L406.2,505.5 L406.7,504.5 L407.1,503.6 L407.5,502.7 L408.0,501.9 L408.5,501.0 L409.0,500.2 L409.5,499.3 L410.0,498.5 L410.6,497.7 L411.1,496.9 L411.7,496.2 L412.3,495.4 L412.9,494.7 L413.6,493.9 L414.2,493.2 L414.9,492.5 L415.5,491.8 L416.2,491.1 L416.9,490.5 L417.6,489.8 L418.3,489.2 L419.1,488.5 L419.8,487.9 L420.6,487.3 L421.4,486.7 L422.1,486.1 L422.9,485.5 L423.7,485.0 L424.5,484.4 L425.4,483.8 L426.2,483.3 L427.0,482.8 L427.9,482.2 L428.7,481.7 L429.6,481.2 L430.5,480.7 L431.3,480.2 L432.2,479.7 L433.1,479.2 L434.0,478.8 L434.9,478.3 L435.8,477.8 L436.7,477.4 L437.7,476.9 L438.6,476.5 L439.5,476.0 L440.4,475.6 L441.4,475.2 L442.3,474.8 L443.3,474.3 L444.2,473.9 L445.1,473.5 L446.1,473.1 L447.0,472.7 L448.0,472.3 L448.9,471.9 L449.9,471.5 L450.8,471.1 L451.8,470.7 L452.7,470.3 L453.7,469.9 L454.6,469.6 L455.6,469.2 L456.5,468.8 L457.5,468.4 L458.4,468.0 L459.4,467.6 L460.3,467.3 L461.2,466.9 L462.2,466.5 L463.1,466.1 L464.1,465.8 L465.0,465.4 L465.9,465.0 L466.9,464.7 L467.8,464.3 L468.7,463.9 L469.7,463.6 L470.6,463.2 L471.5,462.8 L472.5,462.5 L473.4,462.1 L474.3,461.7 L475.3,461.4 L476.2,461.0 L477.1,460.7 L478.1,460.3 L479.0,459.9 L479.9,459.6 L480.9,459.2 L481.8,458.9 L482.7,458.5 L483.7,458.1 L484.6,457.8 L485.5,457.4 L486.5,457.1 L487.4,456.7 L488.3,456.4 L489.2,456.0 L490.2,455.6 L491.1,455.3 L492.0,454.9 L493.0,454.6 L493.9,454.2 L494.8,453.9 L495.8,453.5 L496.7,453.1 L497.6,452.8 L498.5,452.4 L499.5,452.0 L500.4,451.7 L501.3,451.3 L502.3,451.0 L503.2,450.6 L504.1,450.2 L505.0,449.9 L506.0,449.5 L506.9,449.1 L507.8,448.7 L508.7,448.4 L509.7,448.0 L510.6,447.6 L511.5,447.2 L512.4,446.9 L513.4,446.5 L514.3,446.1 L515.2,445.7 L516.1,445.3 L517.1,444.9 L518.0,444.5 L518.9,444.1 L519.8,443.7 L520.7,443.3 L521.7,442.9 L522.6,442.5 L523.5,442.1 L524.4,441.7 L525.3,441.3 L526.3,440.9 L527.2,440.5 L528.1,440.1 L529.0,439.7 L529.9,439.2 L530.8,438.8 L531.8,438.4 L532.7,438.0 L533.6,437.6 L534.5,437.2 L535.4,436.7 L536.3,436.3 L537.3,435.9 L538.2,435.5 L539.1,435.0 L540.0,434.6 L540.9,434.2 L541.8,433.8 L542.8,433.4 L543.7,432.9 L544.6,432.5 L545.5,432.1 L546.4,431.7 L547.4,431.3 L548.3,430.9 L549.2,430.4 L550.1,430.0 L551.0,429.6 L552.0,429.2 L552.9,428.8 L553.8,428.4 L554.7,428.0 L555.7,427.6 L556.6,427.2 L557.5,426.8 L558.4,426.4 L559.4,426.0 L560.3,425.6 L561.2,425.2 L562.2,424.8 L563.1,424.4 L564.0,424.1 L564.9,423.7 L565.9,423.3 L566.8,422.9 L567.7,422.6 L568.7,422.2 L569.6,421.8 L570.6,421.5 L571.5,421.1 L572.4,420.8 L573.4,420.4 L574.3,420.1 L575.3,419.8 L576.2,419.4 L577.2,419.1 L578.1,418.8 L579.1,418.5 L580.0,418.1 L581.0,417.8 L581.9,417.5 L582.9,417.2 L583.8,416.9 L584.8,416.6 L585.7,416.4 L586.7,416.1 L587.7,415.8 L588.6,415.6 L589.6,415.3 L590.6,415.0 L591.5,414.8 L592.5,414.6 L593.5,414.3 L594.4,414.1 L595.4,413.9 L596.4,413.7 L597.4,413.4 L598.4,413.2 L599.3,413.1 L600.3,412.9 L601.3,412.7 L602.3,412.5 L603.3,412.3 L604.3,412.2 L605.3,412.0 L606.3,411.8 L607.3,411.7 L608.3,411.5 L609.2,411.4 L610.2,411.2 L611.2,411.1 L612.2,411.0 L613.2,410.8 L614.2,410.7 L615.2,410.6 L616.2,410.4 L617.2,410.3 L618.2,410.2 L619.3,410.1 L620.3,409.9 L621.3,409.8 L622.3,409.7 L623.3,409.6 L624.3,409.5 L625.3,409.4 L626.3,409.3 L627.3,409.2 L628.3,409.0 L629.3,408.9 L630.3,408.8 L631.3,408.7 L632.3,408.6 L633.3,408.5 L634.3,408.4 L635.3,408.3 L636.3,408.1 L637.3,408.0 L638.3,407.9 L639.3,407.8 L640.3,407.6 L641.3,407.5 L642.3,407.4 L643.3,407.3 L644.3,407.1 L645.3,407.0 L646.3,406.8 L647.3,406.7 L648.3,406.5 L649.3,406.4 L650.3,406.2 L651.3,406.1 L652.3,405.9 L653.3,405.7 L654.3,405.5 L655.3,405.4 L656.2,405.2 L657.2,405.0 L658.2,404.8 L659.2,404.6 L660.2,404.3 L661.1,404.1 L662.1,403.9 L661.8,404.9 L661.5,406.0 L661.1,406.9 L660.7,407.9 L660.3,408.8 L659.8,409.7 L659.3,410.6 L658.8,411.4 L658.2,412.2 L657.6,413.0 L657.0,413.7 L656.4,414.5 L655.7,415.2 L655.0,415.9 L654.3,416.5 L653.5,417.2 L652.8,417.8 L652.0,418.4 L651.2,419.0 L650.4,419.6 L649.6,420.2 L648.8,420.7 L647.9,421.3 L647.1,421.8 L646.2,422.4 L645.3,422.9 L644.5,423.4 L643.6,423.9 L642.7,424.4 L641.9,424.9 L641.0,425.4 L640.1,425.9 L639.2,426.4 L638.3,426.8 L637.5,427.3 L636.6,427.8 L635.7,428.2 L634.8,428.7 L633.9,429.1 L633.0,429.6 L632.1,430.0 L631.2,430.5 L630.3,430.9 L629.4,431.4 L628.5,431.8 L627.6,432.2 L626.7,432.7 L625.8,433.1 L624.9,433.5 L624.0,434.0 L623.1,434.4 L622.2,434.8 L621.3,435.2 L620.4,435.6 L619.4,436.1 L618.5,436.5 L617.6,436.9 L616.7,437.3 L615.8,437.7 L614.9,438.2 L614.0,438.6 L613.1,439.0 L612.2,439.4 L611.2,439.8 L610.3,440.3 L609.4,440.7 L608.5,441.1 L607.6,441.5 L606.7,442.0 L605.8,442.4 L604.9,442.8 L604.0,443.3 L603.1,443.7 L602.2,444.1 L601.3,444.6 L600.4,445.0 L599.5,445.5 L598.6,445.9 L597.7,446.4 L596.8,446.8 L595.9,447.3 L595.0,447.8 L594.1,448.2 L593.2,448.7 L592.3,449.1 L591.4,449.6 L590.5,450.1 L589.7,450.5 L588.8,451.0 L587.9,451.5 L587.0,451.9 L586.1,452.4 L585.2,452.9 L584.3,453.3 L583.4,453.8 L582.5,454.3 L581.7,454.7 L580.8,455.2 L579.9,455.7 L579.0,456.1 L578.1,456.6 L577.2,457.1 L576.3,457.6 L575.4,458.0 L574.5,458.5 L573.7,459.0 L572.8,459.4 L571.9,459.9 L571.0,460.4 L570.1,460.8 L569.2,461.3 L568.3,461.7 L567.4,462.2 L566.5,462.7 L565.6,463.1 L564.7,463.6 L563.8,464.0 L562.9,464.5 L562.1,464.9 L561.2,465.4 L560.3,465.8 L559.4,466.3 L558.5,466.7 L557.6,467.2 L556.7,467.6 L555.8,468.0 L554.9,468.5 L554.0,468.9 L553.0,469.3 L552.1,469.7 L551.2,470.2 L550.3,470.6 L549.4,471.0 L548.5,471.4 L547.6,471.8 L546.7,472.2 L545.8,472.6 L544.8,473.0 L543.9,473.4 L543.0,473.8 L542.1,474.2 L541.2,474.6 L540.2,475.0 L539.3,475.3 L538.4,475.7 L537.5,476.1 L536.5,476.4 L535.6,476.8 L534.7,477.1 L533.7,477.5 L532.8,477.8 L531.8,478.2 L530.9,478.5 L530.0,478.8 L529.0,479.2 L528.1,479.5 L527.1,479.8 L526.2,480.1 L525.2,480.5 L524.3,480.8 L523.3,481.1 L522.4,481.4 L521.4,481.7 L520.5,482.0 L519.5,482.3 L518.6,482.6 L517.6,482.9 L516.7,483.2 L515.7,483.5 L514.7,483.8 L513.8,484.0 L512.8,484.3 L511.8,484.6 L510.9,484.9 L509.9,485.2 L509.0,485.4 L508.0,485.7 L507.0,486.0 L506.0,486.2 L505.1,486.5 L504.1,486.8 L503.1,487.0 L502.2,487.3 L501.2,487.5 L500.2,487.8 L499.3,488.1 L498.3,488.3 L497.3,488.6 L496.3,488.8 L495.4,489.1 L494.4,489.3 L493.4,489.6 L492.4,489.8 L491.5,490.0 L490.5,490.3 L489.5,490.5 L488.5,490.8 L487.6,491.0 L486.6,491.3 L485.6,491.5 L484.6,491.7 L483.7,492.0 L482.7,492.2 L481.7,492.5 L480.7,492.7 L479.7,492.9 L478.8,493.2 L477.8,493.4 L476.8,493.7 L475.8,493.9 L474.9,494.1 L473.9,494.4 L472.9,494.6 L471.9,494.9 L471.0,495.1 L470.0,495.3 L469.0,495.6 L468.0,495.8 L467.1,496.1 L466.1,496.3 L465.1,496.6 L464.1,496.8 L463.2,497.1 L462.2,497.3 L461.2,497.6 L460.3,497.8 L459.3,498.1 L458.3,498.3 L457.3,498.6 L456.4,498.8 L455.4,499.1 L454.4,499.3 L453.5,499.6 L452.5,499.8 L451.5,500.1 L450.6,500.4 L449.6,500.6 L448.6,500.9 L447.7,501.2 L446.7,501.4 L445.7,501.7 L444.8,501.9 L443.8,502.2 L442.9,502.5 L441.9,502.8 L440.9,503.0 L440.0,503.3 L439.0,503.6 L438.0,503.8 L437.1,504.1 L436.1,504.4 L435.2,504.7 L434.2,505.0 L433.2,505.2 L432.3,505.5 L431.3,505.8 L430.3,506.1 L429.4,506.4 L428.4,506.6 L427.5,506.9 L426.5,507.2 L425.5,507.5 L424.6,507.8 L423.6,508.1 L422.7,508.4 L421.7,508.7 L420.8,509.0 L419.8,509.3 L418.8,509.6 L417.9,509.9 L416.9,510.2 L416.0,510.5 L415.0,510.8 L414.0,511.1 L413.1,511.4 L412.1,511.7 L411.2,512.0 L410.2,512.3 L409.2,512.6 L408.3,512.9 L407.3,513.2 L406.4,513.6 L405.4,513.9 L404.5,514.2 L403.5,514.5" fill="none" stroke="#4daf4a" stroke-width="1.15" stroke-linejoin="round" stroke-linecap="round" />
<path d="M404.0,509.1 L404.1,508.2 L404.2,507.2 L404.3,506.2 L404.3,505.3 L404.4,504.3 L404.4,503.3 L404.5,502.3 L404.5,501.4 L404.6,500.4 L404.6,499.4 L404.7,498.4 L404.7,497.4 L404.7,496.4 L404.8,495.3 L404.8,494.3 L404.8,493.3 L404.8,492.3 L404.9,491.3 L404.9,490.2 L404.9,489.2 L405.0,488.2 L405.0,487.2 L405.0,486.1 L405.1,485.1 L405.1,484.1 L405.2,483.0 L405.2,482.0 L405.3,481.0 L405.4,480.0 L405.5,478.9 L405.6,477.9 L405.7,476.9 L405.8,475.9 L405.9,474.8 L406.0,473.8 L406.1,472.8 L406.3,471.8 L406.5,470.8 L406.6,469.8 L406.8,468.8 L407.0,467.8 L407.2,466.8 L407.5,465.9 L407.7,464.9 L408.0,463.9 L408.2,463.0 L408.5,462.0 L408.9,461.1 L409.2,460.1 L409.5,459.2 L409.9,458.3 L410.3,457.4 L410.7,456.5 L411.1,455.6 L411.5,454.7 L412.0,453.8 L412.5,452.9 L412.9,452.0 L413.4,451.2 L413.9,450.3 L414.5,449.5 L415.0,448.6 L415.6,447.8 L416.1,447.0 L416.7,446.2 L417.3,445.4 L417.9,444.6 L418.5,443.8 L419.1,443.0 L419.8,442.3 L420.4,441.5 L421.1,440.8 L421.8,440.0 L422.5,439.3 L423.2,438.6 L423.9,437.9 L424.6,437.2 L425.3,436.5 L426.1,435.8 L426.8,435.2 L427.6,434.5 L428.3,433.9 L429.1,433.3 L429.9,432.6 L430.7,432.0 L431.4,431.4 L432.2,430.8 L433.1,430.3 L433.9,429.7 L434.7,429.1 L435.5,428.6 L436.4,428.0 L437.2,427.5 L438.0,427.0 L438.9,426.5 L439.8,426.0 L440.6,425.5 L441.5,425.1 L442.4,424.6 L443.2,424.1 L444.1,423.7 L445.0,423.2 L445.9,422.8 L446.8,422.4 L447.7,422.0 L448.6,421.6 L449.5,421.2 L450.5,420.8 L451.4,420.4 L452.3,420.0 L453.2,419.7 L454.2,419.3 L455.1,419.0 L456.0,418.6 L457.0,418.3 L457.9,417.9 L458.9,417.6 L459.8,417.3 L460.8,417.0 L461.7,416.7 L462.7,416.3 L463.7,416.0 L464.6,415.7 L465.6,415.5 L466.6,415.2 L467.6,414.9 L468.5,414.6 L469.5,414.3 L470.5,414.1 L471.5,413.8 L472.5,413.5 L473.4,413.3 L474.4,413.0 L475.4,412.8 L476.4,412.5 L477.4,412.3 L478.4,412.0 L479.4,411.8 L480.3,411.5 L481.3,411.3 L482.3,411.1 L483.3,410.8 L484.3,410.6 L485.3,410.4 L486.3,410.1 L487.3,409.9 L488.3,409.7 L489.3,409.4 L490.2,409.2 L491.2,409.0 L492.2,408.8 L493.2,408.5 L494.2,408.3 L495.2,408.1 L496.2,407.8 L497.1,407.6 L498.1,407.4 L499.1,407.1 L500.1,406.9 L501.0,406.7 L502.0,406.4 L503.0,406.2 L504.0,406.0 L504.9,405.7 L505.9,405.5 L506.9,405.2 L507.8,405.0 L508.8,404.7 L509.8,404.5 L510.7,404.2 L511.7,404.0 L512.6,403.7 L513.6,403.5 L514.6,403.2 L515.5,403.0 L516.5,402.7 L517.4,402.5 L518.4,402.2 L519.4,401.9 L520.3,401.7 L521.3,401.4 L522.2,401.1 L523.2,400.9 L524.1,400.6 L525.1,400.3 L526.0,400.0 L527.0,399.8 L527.9,399.5 L528.9,399.2 L529.8,398.9 L530.8,398.6 L531.7,398.3 L532.7,398.0 L533.6,397.7 L534.6,397.5 L535.5,397.2 L536.5,396.9 L537.4,396.5 L538.4,396.2 L539.3,395.9 L540.3,395.6 L541.2,395.3 L542.2,395.0 L543.1,394.7 L544.1,394.3 L545.0,394.0 L546.0,393.7 L546.9,393.4 L547.9,393.0 L548.8,392.7 L549.8,392.4 L550.7,392.1 L551.7,391.7 L552.6,391.4 L553.6,391.1 L554.5,390.7 L555.5,390.4 L556.4,390.1 L557.4,389.7 L558.3,389.4 L559.3,389.1 L560.3,388.7 L561.2,388.4 L562.2,388.1 L563.1,387.8 L564.1,387.4 L565.0,387.1 L566.0,386.8 L566.9,386.5 L567.9,386.1 L568.9,385.8 L569.8,385.5 L570.8,385.2 L571.7,384.9 L572.7,384.6 L573.7,384.3 L574.6,384.0 L575.6,383.7 L576.5,383.4 L577.5,383.1 L578.5,382.8 L579.4,382.5 L580.4,382.3 L581.4,382.0 L582.3,381.7 L583.3,381.4 L584.3,381.2 L585.2,380.9 L586.2,380.7 L587.2,380.4 L588.2,380.1 L589.1,379.9 L590.1,379.6 L591.1,379.4 L592.0,379.1 L593.0,378.9 L594.0,378.6 L594.9,378.4 L595.9,378.1 L596.9,377.9 L597.8,377.6 L598.8,377.3 L599.8,377.1 L600.7,376.8 L601.7,376.6 L602.7,376.3 L603.6,376.0 L604.6,375.8 L605.6,375.5 L606.5,375.2 L607.5,374.9 L608.4,374.7 L609.4,374.4 L610.4,374.1 L611.3,373.8 L612.3,373.5 L613.2,373.2 L614.2,372.9 L615.1,372.6 L616.1,372.3 L617.0,371.9 L617.9,371.6 L618.9,371.3 L619.8,370.9 L620.8,370.6 L621.7,370.2 L622.6,369.8 L623.6,369.5 L624.5,369.1 L625.4,368.7 L626.3,368.3 L627.3,367.9 L628.2,367.5 L629.1,367.1 L630.0,366.7 L630.9,366.3 L631.9,365.9 L632.8,365.5 L633.7,365.1 L634.6,364.7 L635.5,364.3 L636.4,363.8 L637.3,363.4 L638.3,363.0 L639.2,362.6 L640.1,362.1 L641.0,361.7 L641.9,361.3 L642.8,360.8 L643.7,360.4 L644.6,360.0 L645.5,359.6 L646.4,359.2 L647.4,358.8 L648.3,358.4 L649.2,358.0 L650.1,357.6 L651.0,357.3 L652.0,356.9 L652.9,356.6 L653.8,356.3 L654.8,356.0 L655.7,355.7 L656.7,355.5 L657.6,355.2 L658.6,355.0 L659.5,354.8 L660.5,354.6 L660.5,355.6 L660.4,356.6 L660.4,357.7 L660.4,358.7 L660.4,359.7 L660.3,360.7 L660.3,361.7 L660.3,362.7 L660.2,363.7 L660.2,364.7 L660.1,365.7 L660.1,366.7 L660.1,367.7 L660.0,368.7 L660.0,369.7 L659.9,370.7 L659.9,371.7 L659.8,372.7 L659.8,373.7 L659.7,374.6 L659.6,375.6 L659.6,376.6 L659.5,377.6 L659.4,378.6 L659.4,379.6 L659.3,380.6 L659.2,381.6 L659.2,382.5 L659.1,383.5 L659.0,384.5 L658.9,385.5 L658.8,386.5 L658.7,387.5 L658.6,388.5 L658.5,389.5 L658.4,390.5 L658.3,391.5 L658.2,392.4 L658.1,393.4 L657.9,394.4 L657.8,395.4 L657.7,396.4 L657.5,397.5 L657.4,398.5 L657.3,399.5 L657.1,400.5 L657.0,401.5 L656.8,402.5 L656.6,403.5 L656.5,404.5 L656.3,405.6 L656.1,406.6 L655.9,407.6 L655.7,408.6 L655.5,409.6 L655.3,410.6 L655.1,411.6 L654.9,412.6 L654.6,413.7 L654.4,414.7 L654.1,415.6 L653.8,416.6 L653.6,417.6 L653.3,418.6 L653.0,419.6 L652.7,420.5 L652.3,421.5 L652.0,422.5 L651.7,423.4 L651.3,424.3 L650.9,425.3 L650.5,426.2 L650.1,427.1 L649.7,428.0 L649.3,428.9 L648.9,429.8 L648.4,430.6 L647.9,431.5 L647.4,432.3 L646.9,433.2 L646.4,434.0 L645.9,434.8 L645.3,435.6 L644.7,436.3 L644.1,437.1 L643.5,437.8 L642.9,438.6 L642.2,439.3 L641.6,440.0 L640.9,440.6 L640.2,441.3 L639.5,442.0 L638.7,442.6 L638.0,443.2 L637.2,443.9 L636.5,444.5 L635.7,445.1 L634.9,445.6 L634.1,446.2 L633.3,446.8 L632.5,447.3 L631.6,447.9 L630.8,448.4 L629.9,448.9 L629.1,449.4 L628.2,449.9 L627.3,450.4 L626.4,450.9 L625.6,451.4 L624.7,451.8 L623.7,452.3 L622.8,452.8 L621.9,453.2 L621.0,453.6 L620.1,454.1 L619.2,454.5 L618.2,454.9 L617.3,455.4 L616.4,455.8 L615.4,456.2 L614.5,456.6 L613.6,457.0 L612.6,457.4 L611.7,457.8 L610.8,458.2 L609.8,458.6 L608.9,459.0 L608.0,459.3 L607.0,459.7 L606.1,460.1 L605.2,460.5 L604.2,460.8 L603.3,461.2 L602.3,461.6 L601.4,461.9 L600.5,462.3 L599.5,462.6 L598.6,463.0 L597.6,463.3 L596.7,463.7 L595.8,464.0 L594.8,464.3 L593.9,464.7 L592.9,465.0 L592.0,465.3 L591.0,465.7 L590.1,466.0 L589.1,466.3 L588.2,466.6 L587.2,467.0 L586.3,467.3 L585.4,467.6 L584.4,467.9 L583.5,468.2 L582.5,468.5 L581.6,468.8 L580.6,469.1 L579.6,469.4 L578.7,469.7 L577.7,470.0 L576.8,470.3 L575.8,470.6 L574.9,470.9 L573.9,471.2 L573.0,471.5 L572.0,471.8 L571.1,472.1 L570.1,472.4 L569.1,472.7 L568.2,473.0 L567.2,473.2 L566.3,473.5 L565.3,473.8 L564.3,474.1 L563.4,474.4 L562.4,474.6 L561.5,474.9 L560.5,475.2 L559.5,475.5 L558.6,475.7 L557.6,476.0 L556.6,476.3 L555.7,476.5 L554.7,476.8 L553.7,477.1 L552.8,477.3 L551.8,477.6 L550.8,477.8 L549.9,478.1 L548.9,478.4 L547.9,478.6 L547.0,478.9 L546.0,479.1 L545.0,479.4 L544.1,479.6 L543.1,479.9 L542.1,480.1 L541.1,480.3 L540.2,480.6 L539.2,480.8 L538.2,481.1 L537.2,481.3 L536.3,481.5 L535.3,481.8 L534.3,482.0 L533.3,482.2 L532.4,482.5 L531.4,482.7 L530.4,482.9 L529.4,483.1 L528.5,483.4 L527.5,483.6 L526.5,483.8 L525.5,484.0 L524.5,484.3 L523.6,484.5 L522.6,484.7 L521.6,484.9 L520.6,485.1 L519.6,485.3 L518.7,485.5 L517.7,485.7 L516.7,485.9 L515.7,486.1 L514.7,486.3 L513.8,486.5 L512.8,486.7 L511.8,486.9 L510.8,487.1 L509.8,487.3 L508.8,487.5 L507.9,487.7 L506.9,487.9 L505.9,488.1 L504.9,488.2 L503.9,488.4 L502.9,488.6 L501.9,488.8 L501.0,489.0 L500.0,489.1 L499.0,489.3 L498.0,489.5 L497.0,489.7 L496.0,489.8 L495.0,490.0 L494.0,490.2 L493.0,490.3 L492.1,490.5 L491.1,490.7 L490.1,490.8 L489.1,491.0 L488.1,491.1 L487.1,491.3 L486.1,491.4 L485.1,491.6 L484.1,491.7 L483.2,491.9 L482.2,492.0 L481.2,492.2 L480.2,492.3 L479.2,492.4 L478.2,492.6 L477.2,492.7 L476.2,492.9 L475.2,493.0 L474.2,493.1 L473.2,493.3 L472.2,493.4 L471.3,493.6 L470.3,493.7 L469.3,493.8 L468.3,494.0 L467.3,494.1 L466.3,494.3 L465.3,494.4 L464.3,494.6 L463.3,494.7 L462.3,494.9 L461.4,495.0 L460.4,495.2 L459.4,495.3 L458.4,495.5 L457.4,495.6 L456.4,495.8 L455.4,496.0 L454.4,496.1 L453.5,496.3 L452.5,496.5 L451.5,496.6 L450.5,496.8 L449.5,497.0 L448.5,497.2 L447.6,497.4 L446.6,497.6 L445.6,497.8 L444.6,498.0 L443.6,498.2 L442.7,498.4 L441.7,498.6 L440.7,498.9 L439.7,499.1 L438.7,499.3 L437.8,499.6 L436.8,499.8 L435.8,500.1 L434.8,500.3 L433.9,500.6 L432.9,500.8 L431.9,501.1 L431.0,501.4 L430.0,501.7 L429.0,502.0 L428.1,502.2 L427.1,502.5 L426.1,502.8 L425.2,503.1 L424.2,503.4 L423.2,503.7 L422.3,504.0 L421.3,504.3 L420.3,504.6 L419.4,504.9 L418.4,505.2 L417.5,505.5 L416.5,505.8 L415.5,506.1 L414.6,506.4 L413.6,506.7 L412.6,506.9 L411.7,507.2 L410.7,507.5 L409.8,507.8 L408.8,508.1 L407.8,508.3 L406.9,508.6 L405.9,508.9 L405.0,509.1 L404.0,509.4" fill="none" stroke="#984ea3" stroke-width="1.15" stroke-linejoin="round" stroke-linecap="round" />
<line x1="394.4" y1="337.20" x2="417" y2="337.20" stroke="#984ea3" stroke-width="1.3"/>
<text x="422.00" y="340.70" font-size="9.70" text-anchor="start" font-weight="bold" fill="#000" >G10-1.00 µm Pt</text>
<line x1="394.4" y1="348.30" x2="417" y2="348.30" stroke="#4daf4a" stroke-width="1.3"/>
<text x="422.00" y="351.80" font-size="9.70" text-anchor="start" font-weight="bold" fill="#000" >G10-0.45 µm Pt</text>
<line x1="394.4" y1="359.40" x2="417" y2="359.40" stroke="#377eb8" stroke-width="1.3"/>
<text x="422.00" y="362.90" font-size="9.70" text-anchor="start" font-weight="bold" fill="#000" >G10-0.20 µm Pt</text>
<line x1="394.4" y1="370.50" x2="417" y2="370.50" stroke="#e41a1c" stroke-width="1.3"/>
<text x="422.00" y="374.00" font-size="9.70" text-anchor="start" font-weight="bold" fill="#000" >Bare G10</text>
<text x="489.5" y="330.5" font-size="9.7" font-weight="bold">C<tspan font-size="6.5" dy="2">dl</tspan><tspan dy="-2"> (mF.cm</tspan><tspan font-size="6.5" dy="-4">-2</tspan><tspan dy="4">)</tspan></text>
<text x="547.5" y="330.5" font-size="9.7" font-weight="bold">ECSA (cm<tspan font-size="6.5" dy="-4">2</tspan><tspan dy="4">)</tspan></text>
<text x="504.00" y="340.90" font-size="10.00" text-anchor="start" font-weight="normal" fill="#222" >1.3742</text>
<text x="556.00" y="340.90" font-size="10.00" text-anchor="start" font-weight="normal" fill="#222" >3.4355</text>
<text x="504.00" y="351.90" font-size="10.00" text-anchor="start" font-weight="normal" fill="#222" >0.2869</text>
<text x="556.00" y="351.90" font-size="10.00" text-anchor="start" font-weight="normal" fill="#222" >0.7172</text>
<text x="504.00" y="362.90" font-size="10.00" text-anchor="start" font-weight="normal" fill="#222" >0.1965</text>
<text x="556.00" y="362.90" font-size="10.00" text-anchor="start" font-weight="normal" fill="#222" >0.4912</text>
<text x="504.00" y="373.90" font-size="10.00" text-anchor="start" font-weight="normal" fill="#222" >0.0299</text>
<text x="556.00" y="373.90" font-size="10.00" text-anchor="start" font-weight="normal" fill="#222" >0.0747</text>
</svg>
</body></html>
